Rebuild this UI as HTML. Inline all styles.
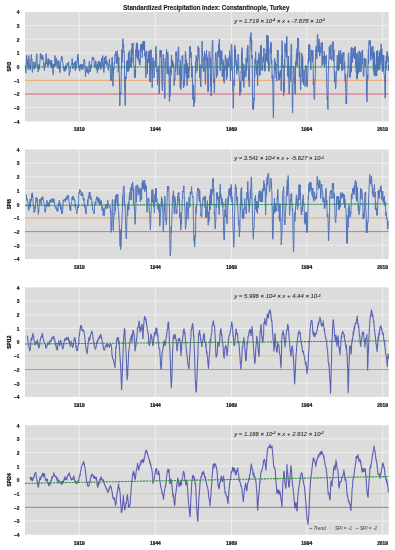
<!DOCTYPE html><html><head><meta charset="utf-8"><style>html,body{margin:0;padding:0;background:#fff;}svg{display:block;filter:blur(0.3px)}</style></head><body>
<svg width="395" height="550" viewBox="0 0 395 550" font-family='"Liberation Sans", sans-serif'>
<rect width="395" height="550" fill="#fff"/>
<text x="206.3" y="9.9" text-anchor="middle" font-weight="bold" font-size="6.8" fill="#1a1a1a" stroke="#1a1a1a" stroke-width="0.15" textLength="166" lengthAdjust="spacingAndGlyphs">Standardized Precipitation Index: Constantinople, Turkey</text>
<rect x="25.0" y="11.9" width="363.7" height="109.5" fill="#dcdcdc"/>
<line x1="25.0" x2="388.7" y1="107.71" y2="107.71" stroke="#f2f2f2" stroke-width="0.8"/>
<line x1="25.0" x2="388.7" y1="52.96" y2="52.96" stroke="#f2f2f2" stroke-width="0.8"/>
<line x1="25.0" x2="388.7" y1="39.27" y2="39.27" stroke="#f2f2f2" stroke-width="0.8"/>
<line x1="25.0" x2="388.7" y1="25.59" y2="25.59" stroke="#f2f2f2" stroke-width="0.8"/>
<line x1="79.3" x2="79.3" y1="11.9" y2="121.4" stroke="#f2f2f2" stroke-width="0.8"/>
<line x1="155.4" x2="155.4" y1="11.9" y2="121.4" stroke="#f2f2f2" stroke-width="0.8"/>
<line x1="231.5" x2="231.5" y1="11.9" y2="121.4" stroke="#f2f2f2" stroke-width="0.8"/>
<line x1="306.8" x2="306.8" y1="11.9" y2="121.4" stroke="#f2f2f2" stroke-width="0.8"/>
<line x1="382.6" x2="382.6" y1="11.9" y2="121.4" stroke="#f2f2f2" stroke-width="0.8"/>
<line x1="25.0" x2="388.7" y1="80.34" y2="80.34" stroke="#f2a56e" stroke-width="1"/>
<line x1="25.0" x2="388.7" y1="94.03" y2="94.03" stroke="#d9607a" stroke-width="1"/>
<polyline points="25.1,65.4 25.4,66.7 25.6,69.2 25.9,73.1 26.1,67.1 26.4,60.1 26.6,55.2 26.9,58.2 27.1,58.9 27.4,65.4 27.7,60.3 27.9,66.2 28.2,69.7 28.4,66.5 28.7,60.3 28.9,55.5 29.2,62.3 29.4,67.3 29.7,64.2 29.9,68.7 30.2,70.0 30.4,69.0 30.7,64.3 30.9,59.1 31.2,60.2 31.4,54.3 31.7,59.6 31.9,59.1 32.2,70.9 32.5,72.4 32.7,69.4 33.0,66.7 33.2,61.8 33.5,65.6 33.7,65.9 34.0,68.3 34.2,69.6 34.5,68.1 34.7,65.0 35.0,61.8 35.2,62.0 35.5,66.6 35.7,67.6 36.0,66.3 36.2,61.0 36.5,54.4 36.7,53.6 37.0,54.7 37.2,62.6 37.5,67.3 37.8,69.7 38.0,72.0 38.3,70.7 38.5,69.4 38.8,64.5 39.0,64.6 39.3,63.9 39.5,69.3 39.8,63.7 40.0,61.7 40.3,53.6 40.5,55.8 40.8,53.6 41.0,58.7 41.3,58.9 41.5,55.5 41.8,58.2 42.0,57.0 42.3,59.8 42.6,55.2 42.8,56.3 43.1,57.5 43.3,60.5 43.6,61.5 43.8,67.5 44.1,67.5 44.3,70.4 44.6,68.4 44.8,66.1 45.1,63.0 45.3,66.6 45.6,61.4 45.8,59.5 46.1,53.6 46.3,60.0 46.6,63.5 46.8,64.0 47.1,61.9 47.4,66.4 47.6,65.8 47.9,58.7 48.1,59.2 48.4,58.5 48.6,65.7 48.9,60.8 49.1,59.7 49.4,64.1 49.6,63.3 49.9,63.1 50.1,60.3 50.4,61.9 50.6,65.7 50.9,66.4 51.1,60.9 51.4,63.8 51.6,60.0 51.9,68.0 52.2,63.5 52.4,66.3 52.7,70.1 52.9,72.0 53.2,74.7 53.4,68.6 53.7,64.2 53.9,64.4 54.2,66.1 54.4,66.4 54.7,62.9 54.9,55.5 55.2,58.7 55.4,61.5 55.7,66.1 55.9,63.5 56.2,58.3 56.4,58.1 56.7,61.5 57.0,64.5 57.2,66.1 57.5,60.8 57.7,60.5 58.0,62.0 58.2,68.9 58.5,66.8 58.7,61.8 59.0,60.8 59.2,64.8 59.5,66.5 59.7,70.9 60.0,72.7 60.2,70.5 60.5,67.1 60.7,62.3 61.0,61.2 61.2,57.9 61.5,59.0 61.7,56.4 62.0,56.3 62.3,57.4 62.5,61.4 62.8,62.1 63.0,63.5 63.3,65.4 63.5,67.0 63.8,70.2 64.0,70.9 64.3,71.2 64.5,66.9 64.8,71.1 65.0,71.3 65.3,70.1 65.5,65.2 65.8,67.4 66.0,65.5 66.3,69.2 66.5,66.6 66.8,64.7 67.1,63.2 67.3,64.0 67.6,64.7 67.8,63.8 68.1,63.2 68.3,65.6 68.6,61.6 68.8,67.0 69.1,70.0 69.3,75.8 69.6,72.6 69.8,72.7 70.1,72.2 70.3,68.3 70.6,68.4 70.8,65.6 71.1,65.4 71.3,64.9 71.6,64.9 71.9,61.4 72.1,58.4 72.4,60.6 72.6,65.4 72.9,68.9 73.1,66.3 73.4,63.7 73.6,63.4 73.9,64.8 74.1,64.1 74.4,63.2 74.6,62.1 74.9,68.1 75.1,69.0 75.4,71.0 75.6,62.1 75.9,60.9 76.1,60.9 76.4,68.5 76.7,67.8 76.9,64.5 77.2,62.4 77.4,56.3 77.7,57.5 77.9,54.0 78.2,59.0 78.4,57.9 78.7,65.9 78.9,67.0 79.2,68.9 79.4,65.5 79.7,71.1 79.9,68.5 80.2,68.9 80.4,64.2 80.7,67.3 80.9,66.9 81.2,64.5 81.4,67.3 81.7,69.3 82.0,69.6 82.2,65.7 82.5,64.2 82.7,66.5 83.0,69.3 83.2,68.4 83.5,63.5 83.7,64.1 84.0,59.8 84.2,60.7 84.5,59.0 84.7,61.1 85.0,67.5 85.2,71.0 85.5,76.7 85.7,73.8 86.0,69.9 86.2,67.8 86.5,66.4 86.8,71.4 87.0,68.6 87.3,72.8 87.5,68.7 87.8,71.2 88.0,70.5 88.3,72.5 88.5,74.1 88.8,70.9 89.0,65.5 89.3,61.2 89.5,63.9 89.8,67.7 90.0,71.8 90.3,67.8 90.5,71.3 90.8,65.3 91.0,67.9 91.3,64.4 91.6,66.9 91.8,62.7 92.1,59.6 92.3,57.6 92.6,60.1 92.8,57.6 93.1,57.1 93.3,57.8 93.6,57.2 93.8,60.2 94.1,59.6 94.3,66.2 94.6,67.4 94.8,65.5 95.1,66.6 95.3,64.0 95.6,65.2 95.8,60.8 96.1,68.7 96.4,69.9 96.6,68.9 96.9,64.9 97.1,64.4 97.4,72.8 97.6,68.8 97.9,70.9 98.1,61.9 98.4,68.8 98.6,65.1 98.9,68.2 99.1,60.8 99.4,65.3 99.6,66.4 99.9,62.4 100.1,62.1 100.4,62.4 100.6,69.3 100.9,69.9 101.1,64.6 101.4,59.1 101.7,58.2 101.9,66.3 102.2,67.8 102.4,62.8 102.7,55.7 102.9,55.8 103.2,61.3 103.4,64.0 103.7,71.0 103.9,72.5 104.2,69.4 104.4,67.4 104.7,57.2 104.9,59.7 105.2,59.6 105.4,63.7 105.7,58.9 105.9,55.8 106.2,61.4 106.5,65.3 106.7,62.9 107.0,60.9 107.2,64.0 107.5,65.0 107.7,63.3 108.0,64.2 108.2,68.0 108.5,70.5 108.7,66.6 109.0,65.3 109.2,60.0 109.5,58.9 109.7,63.5 110.0,65.6 110.2,65.0 110.5,77.2 110.7,80.6 111.0,80.6 111.3,79.2 111.5,80.6 111.8,61.6 112.0,57.1 112.3,57.1 112.5,61.7 112.8,84.1 113.0,86.2 113.3,76.7 113.5,71.2 113.8,68.0 114.0,69.3 114.3,62.3 114.5,63.6 114.8,61.8 115.0,54.1 115.3,54.9 115.5,55.6 115.8,51.5 116.1,56.3 116.3,63.9 116.6,63.9 116.8,63.4 117.1,50.8 117.3,62.6 117.6,54.6 117.8,56.2 118.1,70.6 118.3,72.4 118.6,67.9 118.8,57.0 119.1,72.2 119.3,73.2 119.6,89.5 119.8,105.9 120.1,95.1 120.3,92.0 120.6,94.4 120.9,94.5 121.1,83.3 121.4,65.6 121.6,68.8 121.9,49.2 122.1,62.7 122.4,57.3 122.6,52.4 122.9,38.7 123.1,46.9 123.4,43.6 123.6,44.4 123.9,52.4 124.1,51.3 124.4,57.6 124.6,88.9 124.9,91.4 125.1,105.5 125.4,105.5 125.6,76.8 125.9,77.1 126.2,78.7 126.4,74.4 126.7,61.4 126.9,71.7 127.2,67.4 127.4,59.9 127.7,61.9 127.9,71.3 128.2,69.4 128.4,52.3 128.7,71.3 128.9,64.4 129.2,68.8 129.4,51.8 129.7,50.7 129.9,50.4 130.2,67.2 130.4,58.4 130.7,67.2 131.0,60.4 131.2,66.4 131.5,48.7 131.7,56.8 132.0,62.8 132.2,43.0 132.5,53.7 132.7,50.8 133.0,43.0 133.2,51.0 133.5,56.4 133.7,65.2 134.0,65.8 134.2,68.3 134.5,78.0 134.7,76.6 135.0,70.5 135.2,75.4 135.5,77.5 135.8,49.4 136.0,56.9 136.3,44.7 136.5,42.9 136.8,52.9 137.0,42.9 137.3,58.0 137.5,43.2 137.8,59.4 138.0,58.6 138.3,50.7 138.5,59.7 138.8,49.8 139.0,62.3 139.3,62.8 139.5,59.7 139.8,65.3 140.0,60.3 140.3,62.2 140.6,44.5 140.8,47.6 141.1,44.5 141.3,51.4 141.6,44.5 141.8,44.5 142.1,49.1 142.3,57.7 142.6,42.2 142.8,46.9 143.1,46.6 143.3,41.1 143.6,50.0 143.8,41.1 144.1,41.1 144.3,50.5 144.6,41.6 144.8,56.3 145.1,51.9 145.3,57.9 145.6,60.4 145.9,77.9 146.1,55.1 146.4,50.7 146.6,51.0 146.9,57.7 147.1,61.8 147.4,74.1 147.6,60.0 147.9,59.1 148.1,62.1 148.4,51.6 148.6,62.7 148.9,59.7 149.1,51.3 149.4,51.3 149.6,60.8 149.9,82.0 150.1,50.0 150.4,82.0 150.7,61.2 150.9,70.1 151.2,49.7 151.4,57.5 151.7,59.8 151.9,77.8 152.2,87.6 152.4,80.5 152.7,58.7 152.9,57.6 153.2,57.6 153.4,61.4 153.7,68.4 153.9,73.0 154.2,77.9 154.4,71.2 154.7,70.6 154.9,60.8 155.2,62.6 155.5,66.5 155.7,47.2 156.0,46.2 156.2,52.2 156.5,54.2 156.7,60.0 157.0,72.2 157.2,69.1 157.5,85.1 157.7,82.3 158.0,77.9 158.2,66.4 158.5,65.9 158.7,70.4 159.0,88.8 159.2,93.9 159.5,87.7 159.7,72.3 160.0,50.4 160.3,57.1 160.5,50.4 160.8,50.4 161.0,53.6 161.3,50.4 161.5,69.7 161.8,78.2 162.0,84.2 162.3,90.7 162.5,88.5 162.8,68.6 163.0,60.4 163.3,54.2 163.5,63.0 163.8,58.3 164.0,78.5 164.3,86.5 164.5,92.8 164.8,98.9 165.0,94.9 165.3,61.6 165.6,67.5 165.8,60.1 166.1,56.6 166.3,53.8 166.6,49.3 166.8,61.3 167.1,74.0 167.3,74.0 167.6,66.7 167.8,52.0 168.1,57.9 168.3,69.9 168.6,74.7 168.8,74.6 169.1,68.6 169.3,101.2 169.6,101.5 169.8,75.2 170.1,96.4 170.4,74.5 170.6,68.6 170.9,66.4 171.1,75.3 171.4,55.2 171.6,57.2 171.9,66.7 172.1,67.3 172.4,60.2 172.6,67.2 172.9,62.1 173.1,62.1 173.4,67.1 173.6,63.8 173.9,69.4 174.1,85.6 174.4,77.9 174.6,78.9 174.9,80.3 175.2,73.3 175.4,72.5 175.7,61.4 175.9,51.8 176.2,56.3 176.4,51.8 176.7,51.8 176.9,68.6 177.2,68.0 177.4,75.1 177.7,58.8 177.9,61.3 178.2,49.7 178.4,46.9 178.7,46.9 178.9,57.5 179.2,74.9 179.4,73.5 179.7,67.8 180.0,76.3 180.2,87.4 180.5,60.1 180.7,88.3 181.0,89.8 181.2,81.6 181.5,81.3 181.7,69.7 182.0,59.2 182.2,55.9 182.5,60.2 182.7,55.2 183.0,66.6 183.2,81.8 183.5,87.9 183.7,81.0 184.0,86.4 184.2,81.4 184.5,84.2 184.8,64.2 185.0,73.2 185.3,51.4 185.5,51.4 185.8,53.2 186.0,68.4 186.3,77.0 186.5,59.8 186.8,70.2 187.0,85.7 187.3,78.8 187.5,63.4 187.8,78.9 188.0,68.0 188.3,72.4 188.5,68.1 188.8,78.1 189.0,66.9 189.3,70.7 189.5,46.5 189.8,46.5 190.1,50.6 190.3,46.5 190.6,56.3 190.8,57.6 191.1,52.0 191.3,64.8 191.6,63.5 191.8,77.5 192.1,66.1 192.3,70.3 192.6,87.7 192.8,99.5 193.1,99.8 193.3,84.9 193.6,88.9 193.8,106.7 194.1,98.3 194.3,96.9 194.6,103.0 194.9,99.7 195.1,81.9 195.4,67.4 195.6,61.7 195.9,73.1 196.1,55.5 196.4,58.0 196.6,58.7 196.9,62.0 197.1,58.5 197.4,71.1 197.6,62.1 197.9,59.2 198.1,46.3 198.4,57.5 198.6,50.4 198.9,47.8 199.1,55.0 199.4,62.5 199.7,77.7 199.9,64.0 200.2,72.8 200.4,80.7 200.7,87.0 200.9,87.0 201.2,69.5 201.4,65.5 201.7,68.6 201.9,44.8 202.2,41.1 202.4,53.0 202.7,56.0 202.9,67.1 203.2,66.0 203.4,71.5 203.7,71.9 203.9,57.5 204.2,61.1 204.5,51.4 204.7,70.8 205.0,69.1 205.2,81.1 205.5,84.5 205.7,78.5 206.0,54.4 206.2,60.9 206.5,50.0 206.7,54.9 207.0,59.4 207.2,68.6 207.5,57.2 207.7,91.7 208.0,91.7 208.2,91.7 208.5,91.6 208.7,65.2 209.0,51.5 209.2,51.5 209.5,51.5 209.8,52.3 210.0,67.0 210.3,57.7 210.5,86.6 210.8,75.6 211.0,96.2 211.3,94.2 211.5,78.4 211.8,66.7 212.0,49.7 212.3,44.6 212.5,40.3 212.8,41.0 213.0,66.5 213.3,77.2 213.5,80.8 213.8,83.2 214.0,78.4 214.3,93.0 214.6,88.0 214.8,77.1 215.1,64.4 215.3,60.4 215.6,52.5 215.8,52.5 216.1,52.2 216.3,58.1 216.6,77.7 216.8,76.0 217.1,71.4 217.3,75.1 217.6,73.6 217.8,51.1 218.1,52.9 218.3,56.7 218.6,47.5 218.8,43.6 219.1,54.0 219.4,39.0 219.6,55.9 219.9,60.6 220.1,70.9 220.4,49.8 220.6,58.8 220.9,57.2 221.1,64.2 221.4,59.9 221.6,64.4 221.9,50.9 222.1,76.3 222.4,75.8 222.6,69.5 222.9,76.5 223.1,59.7 223.4,61.6 223.6,80.4 223.9,79.7 224.2,83.2 224.4,79.2 224.7,65.4 224.9,70.4 225.2,56.8 225.4,55.1 225.7,57.5 225.9,61.1 226.2,63.5 226.4,79.8 226.7,70.4 226.9,58.6 227.2,77.5 227.4,67.1 227.7,68.1 227.9,62.7 228.2,65.2 228.4,58.0 228.7,66.9 228.9,58.1 229.2,56.5 229.5,55.4 229.7,50.7 230.0,63.9 230.2,73.2 230.5,80.9 230.7,55.7 231.0,70.6 231.2,46.2 231.5,44.3 231.7,44.3 232.0,52.2 232.2,64.7 232.5,70.4 232.7,89.1 233.0,92.2 233.2,108.3 233.5,99.8 233.7,88.2 234.0,79.8 234.3,85.9 234.5,45.5 234.8,45.3 235.0,45.3 235.3,61.3 235.5,49.0 235.8,58.8 236.0,66.0 236.3,60.6 236.5,64.9 236.8,74.3 237.0,64.7 237.3,70.6 237.5,69.8 237.8,64.7 238.0,54.4 238.3,54.4 238.5,56.3 238.8,70.2 239.1,76.8 239.3,80.0 239.6,81.5 239.8,95.6 240.1,88.1 240.3,84.1 240.6,81.5 240.8,92.3 241.1,71.7 241.3,72.6 241.6,52.2 241.8,59.2 242.1,47.7 242.3,52.3 242.6,81.1 242.8,70.6 243.1,63.6 243.3,71.8 243.6,79.9 243.9,87.5 244.1,78.9 244.4,70.8 244.6,77.7 244.9,72.1 245.1,64.8 245.4,74.9 245.6,69.1 245.9,76.7 246.1,58.0 246.4,69.4 246.6,70.4 246.9,57.3 247.1,50.8 247.4,48.0 247.6,62.2 247.9,45.1 248.1,59.0 248.4,71.1 248.7,80.0 248.9,75.6 249.2,86.9 249.4,75.1 249.7,67.4 249.9,53.7 250.2,36.6 250.4,40.4 250.7,42.1 250.9,32.5 251.2,36.3 251.4,49.6 251.7,39.8 251.9,58.7 252.2,55.0 252.4,83.2 252.7,106.4 252.9,109.5 253.2,102.3 253.4,109.5 253.7,108.0 254.0,97.8 254.2,100.7 254.5,65.1 254.7,77.6 255.0,58.8 255.2,63.9 255.5,56.1 255.7,51.5 256.0,63.2 256.2,70.5 256.5,67.3 256.7,74.5 257.0,70.0 257.2,60.5 257.5,85.8 257.7,85.8 258.0,71.5 258.2,60.1 258.5,63.1 258.8,52.8 259.0,52.8 259.3,58.5 259.5,75.4 259.8,57.8 260.0,75.4 260.3,59.2 260.5,45.6 260.8,57.3 261.0,48.1 261.3,45.0 261.5,54.6 261.8,70.1 262.0,70.3 262.3,65.5 262.5,70.3 262.8,70.3 263.0,57.1 263.3,62.5 263.6,54.6 263.8,48.1 264.1,48.1 264.3,59.2 264.6,68.3 264.8,71.4 265.1,64.5 265.3,70.1 265.6,53.8 265.8,56.7 266.1,57.0 266.3,49.0 266.6,61.1 266.8,35.1 267.1,43.4 267.3,35.1 267.6,59.6 267.8,63.2 268.1,35.9 268.4,51.0 268.6,71.3 268.9,71.3 269.1,71.3 269.4,63.4 269.6,64.8 269.9,60.9 270.1,48.6 270.4,52.9 270.6,42.6 270.9,53.5 271.1,42.6 271.4,64.2 271.6,59.8 271.9,60.2 272.1,78.5 272.4,74.6 272.6,82.1 272.9,84.4 273.1,107.6 273.4,117.8 273.7,106.7 273.9,76.8 274.2,77.6 274.4,63.9 274.7,58.5 274.9,63.6 275.2,71.2 275.4,61.7 275.7,66.1 275.9,71.3 276.2,77.9 276.4,72.1 276.7,81.2 276.9,63.9 277.2,65.4 277.4,49.9 277.7,56.8 277.9,53.3 278.2,50.7 278.5,79.7 278.7,71.8 279.0,80.3 279.2,80.3 279.5,73.3 279.7,75.5 280.0,78.5 280.2,70.7 280.5,70.0 280.7,75.9 281.0,71.0 281.2,90.8 281.5,55.8 281.7,62.1 282.0,40.7 282.2,42.4 282.5,55.1 282.7,67.7 283.0,65.1 283.3,76.1 283.5,96.2 283.8,84.8 284.0,81.8 284.3,92.2 284.5,58.6 284.8,67.7 285.0,43.1 285.3,53.1 285.5,45.7 285.8,46.1 286.0,49.7 286.3,57.3 286.5,40.1 286.8,36.3 287.0,37.1 287.3,62.5 287.5,66.4 287.8,76.0 288.1,65.0 288.3,77.9 288.6,56.2 288.8,75.7 289.1,94.0 289.3,89.9 289.6,81.5 289.8,81.8 290.1,65.9 290.3,69.9 290.6,81.3 290.8,61.1 291.1,44.1 291.3,44.1 291.6,44.1 291.8,75.6 292.1,81.9 292.3,105.8 292.6,113.0 292.8,105.3 293.1,83.5 293.4,66.7 293.6,66.1 293.9,66.1 294.1,66.1 294.4,83.3 294.6,76.2 294.9,91.9 295.1,94.3 295.4,94.3 295.6,61.1 295.9,65.4 296.1,64.1 296.4,52.7 296.6,55.2 296.9,64.9 297.1,48.3 297.4,66.9 297.6,38.2 297.9,40.3 298.2,42.1 298.4,38.2 298.7,48.3 298.9,56.8 299.2,60.0 299.4,77.0 299.7,52.0 299.9,75.6 300.2,73.6 300.4,85.7 300.7,89.9 300.9,76.5 301.2,67.0 301.4,67.9 301.7,57.3 301.9,53.1 302.2,78.8 302.4,81.9 302.7,56.6 303.0,78.2 303.2,81.9 303.5,84.8 303.7,76.6 304.0,69.6 304.2,70.4 304.5,78.4 304.7,80.5 305.0,86.4 305.2,71.7 305.5,65.6 305.7,65.6 306.0,69.3 306.2,65.6 306.5,74.7 306.7,86.8 307.0,86.8 307.2,86.8 307.5,82.7 307.8,73.7 308.0,65.8 308.3,59.1 308.5,63.6 308.8,44.6 309.0,61.5 309.3,47.8 309.5,44.6 309.8,44.6 310.0,47.4 310.3,60.0 310.5,56.2 310.8,69.9 311.0,61.9 311.3,50.2 311.5,55.9 311.8,50.2 312.0,50.9 312.3,62.0 312.6,59.6 312.8,50.2 313.1,55.2 313.3,85.0 313.6,78.8 313.8,83.4 314.1,99.5 314.3,99.5 314.6,99.5 314.8,86.4 315.1,78.8 315.3,73.3 315.6,56.0 315.8,49.1 316.1,52.3 316.3,45.9 316.6,56.4 316.8,58.5 317.1,58.7 317.3,34.9 317.6,34.0 317.9,38.6 318.1,49.1 318.4,52.3 318.6,45.0 318.9,40.1 319.1,39.1 319.4,44.1 319.6,56.2 319.9,55.5 320.1,46.6 320.4,49.8 320.6,51.0 320.9,52.9 321.1,42.6 321.4,42.6 321.6,42.6 321.9,42.6 322.1,65.8 322.4,42.6 322.7,55.8 322.9,64.6 323.2,63.0 323.4,56.6 323.7,59.5 323.9,56.2 324.2,57.6 324.4,51.3 324.7,67.1 324.9,60.1 325.2,56.6 325.4,57.3 325.7,58.0 325.9,64.1 326.2,55.4 326.4,72.6 326.7,82.4 326.9,89.6 327.2,99.5 327.5,96.6 327.7,107.3 328.0,109.4 328.2,72.0 328.5,71.8 328.7,60.7 329.0,57.8 329.2,46.4 329.5,46.9 329.7,52.9 330.0,59.2 330.2,58.2 330.5,46.7 330.7,44.5 331.0,44.5 331.2,57.4 331.5,56.6 331.7,60.2 332.0,60.2 332.3,52.6 332.5,41.7 332.8,41.7 333.0,41.7 333.3,41.7 333.5,61.4 333.8,58.6 334.0,49.6 334.3,73.0 334.5,82.2 334.8,71.4 335.0,72.9 335.3,80.4 335.5,88.8 335.8,88.2 336.0,84.3 336.3,75.7 336.5,70.6 336.8,70.3 337.0,62.1 337.3,55.1 337.6,60.9 337.8,70.0 338.1,66.7 338.3,71.1 338.6,59.3 338.8,50.5 339.1,69.3 339.3,59.8 339.6,53.2 339.8,62.8 340.1,63.0 340.3,63.9 340.6,50.2 340.8,52.5 341.1,53.4 341.3,55.1 341.6,64.7 341.8,70.5 342.1,65.1 342.4,55.5 342.6,70.5 342.9,54.5 343.1,52.3 343.4,56.9 343.6,57.1 343.9,52.3 344.1,69.2 344.4,62.2 344.6,61.0 344.9,73.4 345.1,81.3 345.4,73.9 345.6,88.9 345.9,91.4 346.1,103.9 346.4,96.5 346.6,103.9 346.9,85.0 347.2,75.5 347.4,76.9 347.7,72.8 347.9,70.4 348.2,59.1 348.4,52.7 348.7,52.7 348.9,60.3 349.2,66.6 349.4,77.3 349.7,75.4 349.9,77.3 350.2,77.3 350.4,77.3 350.7,57.9 350.9,55.6 351.2,48.2 351.4,72.2 351.7,47.1 352.0,62.7 352.2,55.3 352.5,62.1 352.7,56.5 353.0,48.1 353.2,50.4 353.5,56.1 353.7,57.1 354.0,49.4 354.2,52.0 354.5,58.8 354.7,46.7 355.0,50.4 355.2,46.7 355.5,54.4 355.7,65.4 356.0,62.3 356.2,72.4 356.5,53.7 356.7,79.1 357.0,67.6 357.3,79.1 357.5,79.1 357.8,52.2 358.0,62.9 358.3,66.0 358.5,73.5 358.8,59.0 359.0,55.5 359.3,50.8 359.5,67.2 359.8,71.9 360.0,59.8 360.3,61.3 360.5,52.5 360.8,71.9 361.0,71.9 361.3,67.5 361.5,67.4 361.8,58.9 362.1,50.5 362.3,63.5 362.6,50.5 362.8,57.3 363.1,66.8 363.3,76.3 363.6,75.4 363.8,76.3 364.1,68.5 364.3,58.5 364.6,64.5 364.8,58.5 365.1,58.5 365.3,58.5 365.6,66.4 365.8,59.2 366.1,68.8 366.3,71.2 366.6,94.6 366.9,101.8 367.1,101.8 367.4,77.2 367.6,74.5 367.9,79.4 368.1,59.7 368.4,49.3 368.6,63.6 368.9,42.0 369.1,40.4 369.4,40.4 369.6,45.1 369.9,45.5 370.1,40.4 370.4,42.9 370.6,60.4 370.9,60.4 371.1,49.1 371.4,56.1 371.7,52.7 371.9,46.5 372.2,49.8 372.4,58.9 372.7,55.1 372.9,46.5 373.2,67.8 373.4,71.3 373.7,71.3 373.9,51.9 374.2,75.2 374.4,51.9 374.7,69.8 374.9,76.1 375.2,76.1 375.4,75.5 375.7,64.7 375.9,75.7 376.2,58.6 376.5,51.4 376.7,76.1 377.0,63.2 377.2,71.1 377.5,50.2 377.7,65.6 378.0,65.5 378.2,69.9 378.5,61.4 378.7,56.5 379.0,68.3 379.2,51.3 379.5,57.1 379.7,70.1 380.0,53.5 380.2,53.9 380.5,49.1 380.7,64.9 381.0,56.7 381.2,43.7 381.5,60.7 381.8,48.5 382.0,58.1 382.3,71.6 382.5,56.2 382.8,68.0 383.0,54.8 383.3,62.7 383.5,71.2 383.8,55.6 384.0,74.1 384.3,74.1 384.5,79.3 384.8,83.6 385.0,98.2 385.3,98.2 385.5,78.0 385.8,61.1 386.0,69.5 386.3,55.7 386.6,62.3 386.8,54.5 387.1,51.3 387.3,55.8 387.6,52.7 387.8,61.8 388.1,56.3 388.3,70.9 388.6,65.1" fill="none" stroke="#4f72b8" stroke-width="1.0" stroke-linejoin="round"/>
<line x1="25.0" x2="388.7" y1="67.06" y2="67.06" stroke="#1a8a5c" stroke-width="1.1" stroke-dasharray="2.4,0.7"/>
<text x="19.6" y="123.70" text-anchor="end" font-weight="bold" font-size="4.9" fill="#1a1a1a" stroke="#1a1a1a" stroke-width="0.2">−4</text>
<text x="19.6" y="110.01" text-anchor="end" font-weight="bold" font-size="4.9" fill="#1a1a1a" stroke="#1a1a1a" stroke-width="0.2">−3</text>
<text x="19.6" y="96.33" text-anchor="end" font-weight="bold" font-size="4.9" fill="#1a1a1a" stroke="#1a1a1a" stroke-width="0.2">−2</text>
<text x="19.6" y="82.64" text-anchor="end" font-weight="bold" font-size="4.9" fill="#1a1a1a" stroke="#1a1a1a" stroke-width="0.2">−1</text>
<text x="19.6" y="68.95" text-anchor="end" font-weight="bold" font-size="4.9" fill="#1a1a1a" stroke="#1a1a1a" stroke-width="0.2">0</text>
<text x="19.6" y="55.26" text-anchor="end" font-weight="bold" font-size="4.9" fill="#1a1a1a" stroke="#1a1a1a" stroke-width="0.2">1</text>
<text x="19.6" y="41.57" text-anchor="end" font-weight="bold" font-size="4.9" fill="#1a1a1a" stroke="#1a1a1a" stroke-width="0.2">2</text>
<text x="19.6" y="27.89" text-anchor="end" font-weight="bold" font-size="4.9" fill="#1a1a1a" stroke="#1a1a1a" stroke-width="0.2">3</text>
<text x="19.6" y="14.20" text-anchor="end" font-weight="bold" font-size="4.9" fill="#1a1a1a" stroke="#1a1a1a" stroke-width="0.2">4</text>
<text x="79.3" y="131.20" text-anchor="middle" font-weight="bold" font-size="4.9" fill="#111" stroke="#111" stroke-width="0.2">1919</text>
<text x="155.4" y="131.20" text-anchor="middle" font-weight="bold" font-size="4.9" fill="#111" stroke="#111" stroke-width="0.2">1944</text>
<text x="231.5" y="131.20" text-anchor="middle" font-weight="bold" font-size="4.9" fill="#111" stroke="#111" stroke-width="0.2">1969</text>
<text x="306.8" y="131.20" text-anchor="middle" font-weight="bold" font-size="4.9" fill="#111" stroke="#111" stroke-width="0.2">1994</text>
<text x="382.6" y="131.20" text-anchor="middle" font-weight="bold" font-size="4.9" fill="#111" stroke="#111" stroke-width="0.2">2019</text>
<text transform="translate(10.8,66.65) rotate(-90)" text-anchor="middle" font-weight="bold" font-size="4.8" fill="#111" stroke="#111" stroke-width="0.25" textLength="9.6" lengthAdjust="spacingAndGlyphs">SPI3</text>
<text x="234.2" y="22.80" font-style="italic" font-size="6.0" fill="#2a2a2a" stroke="#2a2a2a" stroke-width="0.08" textLength="91" lengthAdjust="spacingAndGlyphs">y = 1.719 × 10<tspan dy="-1.8" font-size="3.6">-4</tspan><tspan dy="1.8"> × x + -7.878 × 10</tspan><tspan dy="-1.8" font-size="3.6">-5</tspan></text>
<rect x="25.0" y="149.5" width="363.7" height="109.5" fill="#dcdcdc"/>
<line x1="25.0" x2="388.7" y1="245.31" y2="245.31" stroke="#f2f2f2" stroke-width="0.8"/>
<line x1="25.0" x2="388.7" y1="190.56" y2="190.56" stroke="#f2f2f2" stroke-width="0.8"/>
<line x1="25.0" x2="388.7" y1="176.88" y2="176.88" stroke="#f2f2f2" stroke-width="0.8"/>
<line x1="25.0" x2="388.7" y1="163.19" y2="163.19" stroke="#f2f2f2" stroke-width="0.8"/>
<line x1="79.3" x2="79.3" y1="149.5" y2="259.0" stroke="#f2f2f2" stroke-width="0.8"/>
<line x1="155.4" x2="155.4" y1="149.5" y2="259.0" stroke="#f2f2f2" stroke-width="0.8"/>
<line x1="231.5" x2="231.5" y1="149.5" y2="259.0" stroke="#f2f2f2" stroke-width="0.8"/>
<line x1="306.8" x2="306.8" y1="149.5" y2="259.0" stroke="#f2f2f2" stroke-width="0.8"/>
<line x1="382.6" x2="382.6" y1="149.5" y2="259.0" stroke="#f2f2f2" stroke-width="0.8"/>
<line x1="25.0" x2="388.7" y1="217.94" y2="217.94" stroke="#f0a575" stroke-width="1"/>
<line x1="25.0" x2="388.7" y1="231.62" y2="231.62" stroke="#d87080" stroke-width="1"/>
<polyline points="26.1,194.6 26.4,194.6 26.6,200.1 26.9,198.2 27.1,201.1 27.4,200.8 27.7,202.2 27.9,203.9 28.2,206.9 28.4,209.6 28.7,204.8 28.9,210.4 29.2,204.6 29.4,203.1 29.7,205.1 29.9,201.5 30.2,199.1 30.4,207.3 30.7,202.1 30.9,202.0 31.2,199.4 31.4,200.2 31.7,194.3 31.9,196.6 32.2,192.7 32.5,197.8 32.7,195.3 33.0,198.6 33.2,206.1 33.5,204.6 33.7,206.1 34.0,212.5 34.2,210.4 34.5,209.7 34.7,211.8 35.0,206.2 35.2,208.9 35.5,206.5 35.7,200.1 36.0,197.8 36.2,198.5 36.5,198.8 36.7,197.2 37.0,202.4 37.2,198.4 37.5,204.1 37.8,206.3 38.0,209.6 38.3,214.3 38.5,209.5 38.8,211.7 39.0,206.8 39.3,202.9 39.5,200.1 39.8,199.4 40.0,202.0 40.3,198.9 40.5,200.0 40.8,202.4 41.0,204.6 41.3,205.5 41.5,201.5 41.8,197.0 42.0,199.9 42.3,198.0 42.6,199.4 42.8,196.6 43.1,199.4 43.3,199.9 43.6,200.9 43.8,202.1 44.1,203.7 44.3,205.4 44.6,207.6 44.8,211.4 45.1,210.2 45.3,212.3 45.6,209.7 45.8,210.0 46.1,205.6 46.3,203.6 46.6,206.8 46.8,200.6 47.1,200.3 47.4,202.2 47.6,203.8 47.9,206.4 48.1,205.8 48.4,206.4 48.6,202.6 48.9,204.8 49.1,204.6 49.4,206.3 49.6,200.5 49.9,203.0 50.1,202.0 50.4,199.7 50.6,200.8 50.9,200.1 51.1,199.3 51.4,202.3 51.6,202.2 51.9,200.1 52.2,198.5 52.4,202.2 52.7,200.6 52.9,202.0 53.2,202.6 53.4,198.5 53.7,201.4 53.9,199.2 54.2,200.4 54.4,201.5 54.7,202.9 54.9,206.8 55.2,205.9 55.4,206.1 55.7,206.5 55.9,208.7 56.2,207.0 56.4,208.9 56.7,210.7 57.0,209.3 57.2,210.0 57.5,208.5 57.7,211.8 58.0,209.2 58.2,205.5 58.5,203.0 58.7,206.5 59.0,201.8 59.2,200.2 59.5,201.3 59.7,202.1 60.0,205.3 60.2,203.4 60.5,209.5 60.7,204.5 61.0,209.3 61.2,206.9 61.5,213.7 61.7,210.7 62.0,212.2 62.3,213.7 62.5,213.3 62.8,205.8 63.0,205.0 63.3,200.2 63.5,202.3 63.8,200.5 64.0,199.6 64.3,199.1 64.5,200.0 64.8,199.0 65.0,201.3 65.3,201.8 65.5,197.8 65.8,198.8 66.0,197.9 66.3,200.1 66.5,197.6 66.8,199.6 67.1,196.2 67.3,198.6 67.6,196.6 67.8,195.3 68.1,197.2 68.3,196.8 68.6,195.4 68.8,201.6 69.1,202.3 69.3,202.8 69.6,207.2 69.8,209.6 70.1,205.9 70.3,207.5 70.6,210.8 70.8,210.8 71.1,204.6 71.3,201.8 71.6,201.2 71.9,200.5 72.1,197.2 72.4,199.9 72.6,196.4 72.9,196.3 73.1,200.0 73.4,196.3 73.6,197.2 73.9,199.1 74.1,200.1 74.4,198.8 74.6,200.9 74.9,200.3 75.1,207.2 75.4,206.2 75.6,203.9 75.9,207.9 76.1,210.7 76.4,211.5 76.7,213.7 76.9,213.7 77.2,211.5 77.4,210.9 77.7,206.7 77.9,207.7 78.2,204.9 78.4,208.0 78.7,199.8 78.9,192.7 79.2,193.7 79.4,193.3 79.7,189.5 79.9,189.5 80.2,189.7 80.4,192.1 80.7,191.9 80.9,191.2 81.2,195.9 81.4,193.6 81.7,194.3 82.0,192.4 82.2,193.4 82.5,196.4 82.7,193.8 83.0,196.1 83.2,199.3 83.5,198.4 83.7,200.9 84.0,198.5 84.2,205.7 84.5,207.3 84.7,207.4 85.0,205.0 85.2,207.7 85.5,213.1 85.7,214.0 86.0,213.6 86.2,213.8 86.5,207.7 86.8,206.6 87.0,205.0 87.3,204.9 87.5,199.6 87.8,204.0 88.0,203.8 88.3,197.4 88.5,195.9 88.8,198.7 89.0,195.5 89.3,192.2 89.5,196.7 89.8,194.2 90.0,192.2 90.3,199.4 90.5,196.6 90.8,196.1 91.0,199.4 91.3,197.9 91.6,199.5 91.8,203.1 92.1,202.1 92.3,203.9 92.6,210.0 92.8,209.8 93.1,211.0 93.3,211.4 93.6,212.4 93.8,213.4 94.1,212.3 94.3,213.4 94.6,206.2 94.8,205.8 95.1,201.6 95.3,202.9 95.6,203.8 95.8,204.8 96.1,199.1 96.4,199.6 96.6,197.8 96.9,196.6 97.1,196.6 97.4,199.3 97.6,196.9 97.9,202.4 98.1,202.6 98.4,200.1 98.6,198.3 98.9,198.5 99.1,203.9 99.4,198.5 99.6,205.4 99.9,205.4 100.1,203.6 100.4,200.9 100.6,204.7 100.9,205.2 101.1,200.4 101.4,202.0 101.7,205.9 101.9,205.4 102.2,210.4 102.4,206.2 102.7,210.2 102.9,207.8 103.2,215.7 103.4,211.1 103.7,208.8 103.9,214.4 104.2,213.2 104.4,215.7 104.7,208.8 104.9,207.5 105.2,207.5 105.4,208.7 105.7,204.1 105.9,205.5 106.2,205.3 106.5,205.1 106.7,207.4 107.0,208.8 107.2,205.3 107.5,208.0 107.7,200.2 108.0,203.8 108.2,204.4 108.5,203.6 108.7,203.7 109.0,206.4 109.2,207.6 109.5,207.7 109.7,206.2 110.0,207.2 110.2,207.8 110.5,213.8 110.7,210.8 111.0,231.2 111.3,232.3 111.5,221.6 111.8,222.7 112.0,212.6 112.3,199.4 112.5,200.6 112.8,200.0 113.0,227.3 113.3,230.5 113.5,221.6 113.8,219.8 114.0,213.3 114.3,214.1 114.5,213.2 114.8,214.2 115.0,199.2 115.3,211.3 115.5,195.5 115.8,200.1 116.1,203.3 116.3,200.3 116.6,194.4 116.8,194.4 117.1,194.4 117.3,197.2 117.6,205.8 117.8,194.4 118.1,206.3 118.3,209.6 118.6,211.8 118.8,213.9 119.1,223.5 119.3,224.6 119.6,233.4 119.8,235.7 120.1,246.2 120.3,229.7 120.6,249.5 120.9,247.1 121.1,246.7 121.4,236.2 121.6,224.5 121.9,224.4 122.1,214.5 122.4,212.8 122.6,195.5 122.9,205.1 123.1,192.4 123.4,186.8 123.6,185.9 123.9,185.9 124.1,186.0 124.4,194.0 124.6,201.9 124.9,206.6 125.1,205.5 125.4,217.5 125.6,220.3 125.9,232.4 126.2,238.9 126.4,238.8 126.7,229.2 126.9,217.6 127.2,213.9 127.4,207.4 127.7,215.6 127.9,204.2 128.2,207.5 128.4,202.4 128.7,204.9 128.9,210.1 129.2,196.6 129.4,196.4 129.7,192.4 129.9,200.1 130.2,192.4 130.4,189.1 130.7,187.6 131.0,189.4 131.2,199.9 131.5,199.9 131.7,184.6 132.0,190.9 132.2,185.8 132.5,182.2 132.7,182.2 133.0,184.8 133.2,186.7 133.5,205.5 133.7,188.5 134.0,204.9 134.2,208.4 134.5,207.6 134.7,216.7 135.0,224.4 135.2,224.2 135.5,216.8 135.8,209.5 136.0,185.8 136.3,201.3 136.5,201.9 136.8,191.0 137.0,191.6 137.3,184.6 137.5,187.9 137.8,185.8 138.0,189.0 138.3,195.1 138.5,189.3 138.8,190.5 139.0,187.5 139.3,187.7 139.5,193.4 139.8,193.5 140.0,196.7 140.3,201.6 140.6,189.9 140.8,188.8 141.1,188.2 141.3,197.7 141.6,199.6 141.8,189.9 142.1,182.7 142.3,182.7 142.6,189.4 142.8,180.0 143.1,189.0 143.3,187.6 143.6,181.4 143.8,184.6 144.1,185.6 144.3,190.0 144.6,180.0 144.8,191.7 145.1,184.4 145.3,183.5 145.6,189.6 145.9,189.7 146.1,187.4 146.4,185.9 146.6,194.6 146.9,212.1 147.1,212.1 147.4,212.1 147.6,212.1 147.9,198.3 148.1,198.9 148.4,201.5 148.6,198.3 148.9,198.3 149.1,207.4 149.4,209.6 149.6,209.9 149.9,222.3 150.1,223.1 150.4,230.0 150.7,222.6 150.9,214.7 151.2,210.7 151.4,202.8 151.7,193.7 151.9,189.7 152.2,194.8 152.4,196.8 152.7,202.8 152.9,189.7 153.2,198.6 153.4,201.0 153.7,206.8 153.9,205.9 154.2,208.1 154.4,213.1 154.7,207.4 154.9,194.3 155.2,202.3 155.5,198.6 155.7,188.3 156.0,193.9 156.2,188.3 156.5,202.1 156.7,198.5 157.0,198.3 157.2,203.1 157.5,203.5 157.7,209.1 158.0,207.1 158.2,204.5 158.5,203.2 158.7,203.2 159.0,212.3 159.2,205.1 159.5,220.0 159.7,226.0 160.0,226.0 160.3,217.8 160.5,213.9 160.8,209.1 161.0,203.9 161.3,201.2 161.5,196.8 161.8,206.7 162.0,198.8 162.3,202.9 162.5,201.2 162.8,214.3 163.0,224.4 163.3,232.2 163.5,230.0 163.8,221.1 164.0,210.4 164.3,204.1 164.5,211.9 164.8,196.1 165.0,201.0 165.3,216.4 165.6,220.0 165.8,220.5 166.1,218.6 166.3,224.9 166.6,221.8 166.8,214.4 167.1,202.3 167.3,189.4 167.6,186.2 167.8,191.8 168.1,189.4 168.3,186.5 168.6,186.2 168.8,186.2 169.1,198.8 169.3,202.7 169.6,225.8 169.8,238.9 170.1,255.8 170.4,255.8 170.6,251.2 170.9,250.0 171.1,226.6 171.4,233.0 171.6,224.6 171.9,220.0 172.1,209.6 172.4,203.8 172.6,196.1 172.9,195.2 173.1,201.5 173.4,190.6 173.6,195.2 173.9,195.2 174.1,213.9 174.4,213.9 174.6,212.2 174.9,196.7 175.2,198.9 175.4,199.3 175.7,205.5 175.9,208.4 176.2,213.7 176.4,209.9 176.7,213.7 176.9,212.2 177.2,204.9 177.4,201.4 177.7,196.0 177.9,201.0 178.2,193.1 178.4,194.9 178.7,193.0 178.9,192.3 179.2,203.9 179.4,198.7 179.7,214.0 180.0,218.2 180.2,212.5 180.5,222.1 180.7,230.1 181.0,226.8 181.2,219.2 181.5,224.1 181.7,213.0 182.0,210.8 182.2,200.6 182.5,199.7 182.7,190.7 183.0,191.6 183.2,192.1 183.5,188.5 183.7,186.0 184.0,186.0 184.2,194.7 184.5,202.6 184.8,206.2 185.0,210.3 185.3,224.5 185.5,229.5 185.8,226.5 186.0,225.6 186.3,221.4 186.5,201.9 186.8,210.3 187.0,201.9 187.3,210.5 187.5,207.8 187.8,211.2 188.0,219.2 188.3,216.9 188.5,208.5 188.8,206.9 189.0,197.1 189.3,200.8 189.5,203.8 189.8,207.3 190.1,197.2 190.3,191.7 190.6,194.5 190.8,192.0 191.1,194.0 191.3,191.0 191.6,186.6 191.8,190.9 192.1,192.7 192.3,195.9 192.6,197.9 192.8,196.1 193.1,199.5 193.3,218.2 193.6,221.4 193.8,237.6 194.1,241.7 194.3,236.9 194.6,247.1 194.9,243.8 195.1,235.2 195.4,237.4 195.6,231.0 195.9,206.5 196.1,213.5 196.4,207.7 196.6,205.1 196.9,205.4 197.1,193.8 197.4,192.0 197.6,188.3 197.9,188.1 198.1,189.8 198.4,188.1 198.6,188.1 198.9,198.4 199.1,197.9 199.4,201.6 199.7,189.7 199.9,196.4 200.2,199.5 200.4,205.3 200.7,204.4 200.9,215.6 201.2,213.3 201.4,216.8 201.7,217.4 201.9,215.6 202.2,203.4 202.4,207.0 202.7,202.1 202.9,199.2 203.2,197.3 203.4,198.7 203.7,200.1 203.9,198.5 204.2,196.6 204.5,201.2 204.7,198.9 205.0,207.8 205.2,204.0 205.5,195.8 205.7,217.8 206.0,214.2 206.2,210.3 206.5,216.3 206.7,206.9 207.0,217.6 207.2,204.2 207.5,200.5 207.7,213.3 208.0,212.6 208.2,225.3 208.5,215.4 208.7,211.9 209.0,221.4 209.2,214.1 209.5,208.7 209.8,195.3 210.0,206.3 210.3,210.0 210.5,189.1 210.8,202.7 211.0,191.2 211.3,204.9 211.5,193.8 211.8,189.1 212.0,194.7 212.3,188.4 212.5,179.1 212.8,183.1 213.0,178.2 213.3,178.2 213.5,192.0 213.8,187.9 214.0,197.8 214.3,214.4 214.6,211.9 214.8,218.7 215.1,229.1 215.3,228.5 215.6,223.6 215.8,221.1 216.1,205.5 216.3,207.7 216.6,205.1 216.8,192.8 217.1,198.2 217.3,192.1 217.6,199.0 217.8,199.1 218.1,200.4 218.3,196.8 218.6,208.1 218.8,206.4 219.1,214.7 219.4,207.9 219.6,193.3 219.9,192.2 220.1,186.9 220.4,184.1 220.6,198.2 220.9,194.4 221.1,198.1 221.4,204.3 221.6,202.5 221.9,200.4 222.1,198.2 222.4,203.7 222.6,207.4 222.9,202.1 223.1,216.8 223.4,217.0 223.6,230.0 223.9,239.7 224.2,239.7 224.4,239.7 224.7,224.7 224.9,209.7 225.2,217.1 225.4,201.4 225.7,198.8 225.9,198.8 226.2,211.6 226.4,213.9 226.7,218.2 226.9,223.6 227.2,223.7 227.4,215.7 227.7,213.5 227.9,196.7 228.2,196.6 228.4,203.7 228.7,199.4 228.9,189.3 229.2,195.0 229.5,189.4 229.7,188.0 230.0,195.9 230.2,194.4 230.5,189.2 230.7,187.3 231.0,198.7 231.2,184.4 231.5,191.0 231.7,197.6 232.0,202.2 232.2,196.9 232.5,206.9 232.7,214.5 233.0,228.0 233.2,231.4 233.5,239.9 233.7,247.3 234.0,244.0 234.3,231.8 234.5,216.3 234.8,209.3 235.0,195.0 235.3,189.9 235.5,184.3 235.8,188.5 236.0,188.5 236.3,187.0 236.5,198.1 236.8,200.9 237.0,199.9 237.3,205.6 237.5,196.9 237.8,207.1 238.0,212.9 238.3,215.2 238.5,225.3 238.8,220.4 239.1,226.3 239.3,236.8 239.6,230.8 239.8,232.3 240.1,217.4 240.3,205.5 240.6,210.9 240.8,197.9 241.1,188.7 241.3,205.5 241.6,187.3 241.8,195.9 242.1,202.6 242.3,217.0 242.6,212.9 242.8,218.7 243.1,212.0 243.3,209.5 243.6,218.7 243.9,218.7 244.1,210.5 244.4,205.8 244.6,202.3 244.9,198.5 245.1,209.8 245.4,206.9 245.6,208.0 245.9,209.8 246.1,213.8 246.4,213.8 246.6,210.2 246.9,192.1 247.1,193.8 247.4,199.2 247.6,181.7 247.9,181.4 248.1,190.6 248.4,199.2 248.7,205.6 248.9,198.9 249.2,212.4 249.4,205.0 249.7,206.3 249.9,205.1 250.2,191.6 250.4,189.2 250.7,198.9 250.9,182.7 251.2,179.3 251.4,176.9 251.7,185.9 251.9,191.2 252.2,203.1 252.4,209.4 252.7,221.3 252.9,232.6 253.2,236.7 253.4,239.2 253.7,229.4 254.0,229.3 254.2,219.1 254.5,216.9 254.7,209.4 255.0,197.9 255.2,201.6 255.5,195.0 255.7,209.4 256.0,207.2 256.2,203.2 256.5,201.2 256.7,211.6 257.0,201.1 257.2,208.3 257.5,213.6 257.7,208.0 258.0,202.3 258.2,207.8 258.5,194.3 258.8,199.0 259.0,192.7 259.3,190.7 259.5,194.2 259.8,190.7 260.0,201.8 260.3,191.1 260.5,201.8 260.8,191.8 261.0,201.8 261.3,194.2 261.5,192.8 261.8,200.4 262.0,201.8 262.3,189.8 262.5,201.5 262.8,188.7 263.0,191.3 263.3,190.1 263.6,188.8 263.8,180.6 264.1,190.5 264.3,187.2 264.6,184.3 264.8,183.8 265.1,188.4 265.3,198.4 265.6,215.1 265.8,205.8 266.1,193.3 266.3,188.4 266.6,195.3 266.8,181.7 267.1,177.2 267.3,185.4 267.6,178.6 267.8,174.4 268.1,173.2 268.4,173.2 268.6,174.1 268.9,180.9 269.1,184.9 269.4,190.6 269.6,191.9 269.9,189.6 270.1,187.0 270.4,178.4 270.6,178.4 270.9,178.4 271.1,178.4 271.4,180.4 271.6,189.4 271.9,191.0 272.1,202.9 272.4,223.0 272.6,238.7 272.9,239.3 273.1,234.9 273.4,220.2 273.7,206.4 273.9,207.8 274.2,213.6 274.4,198.1 274.7,208.1 274.9,211.8 275.2,211.6 275.4,203.6 275.7,211.6 275.9,211.3 276.2,208.7 276.4,207.6 276.7,210.9 276.9,204.2 277.2,197.2 277.4,199.6 277.7,189.4 277.9,189.4 278.2,202.4 278.5,205.7 278.7,211.6 279.0,203.5 279.2,218.9 279.5,215.0 279.7,221.4 280.0,204.6 280.2,217.2 280.5,220.1 280.7,218.6 281.0,229.1 281.2,244.9 281.5,241.8 281.7,236.5 282.0,233.3 282.2,221.9 282.5,211.6 282.7,194.2 283.0,190.7 283.3,191.6 283.5,186.7 283.8,190.6 284.0,204.1 284.3,221.4 284.5,219.7 284.8,225.0 285.0,224.2 285.3,216.5 285.5,211.2 285.8,210.2 286.0,202.8 286.3,196.6 286.5,197.5 286.8,186.9 287.0,187.5 287.3,180.3 287.5,195.4 287.8,182.0 288.1,175.5 288.3,178.6 288.6,189.3 288.8,190.1 289.1,200.2 289.3,205.2 289.6,215.3 289.8,211.0 290.1,207.1 290.3,202.2 290.6,199.0 290.8,200.0 291.1,194.2 291.3,200.6 291.6,193.4 291.8,205.2 292.1,205.2 292.3,211.3 292.6,207.9 292.8,219.5 293.1,238.9 293.4,250.7 293.6,251.7 293.9,243.5 294.1,225.7 294.4,214.5 294.6,211.9 294.9,221.5 295.1,218.7 295.4,211.8 295.6,205.6 295.9,204.7 296.1,200.1 296.4,194.8 296.6,205.2 296.9,198.0 297.1,201.1 297.4,209.5 297.6,209.5 297.9,205.5 298.2,206.4 298.4,195.1 298.7,194.9 298.9,184.8 299.2,200.1 299.4,184.8 299.7,192.1 299.9,184.8 300.2,184.8 300.4,191.4 300.7,198.4 300.9,205.0 301.2,214.9 301.4,213.7 301.7,214.9 301.9,207.4 302.2,211.5 302.4,205.2 302.7,198.7 303.0,197.6 303.2,194.8 303.5,200.6 303.7,206.1 304.0,205.6 304.2,209.2 304.5,222.5 304.7,214.1 305.0,219.4 305.2,224.4 305.5,212.3 305.7,215.0 306.0,221.7 306.2,215.0 306.5,232.5 306.7,211.9 307.0,232.5 307.2,232.5 307.5,228.3 307.8,213.9 308.0,208.9 308.3,196.3 308.5,200.0 308.8,183.7 309.0,186.4 309.3,192.1 309.5,182.3 309.8,182.6 310.0,184.8 310.3,182.3 310.5,190.4 310.8,187.7 311.0,182.3 311.3,189.4 311.5,187.3 311.8,189.8 312.0,195.1 312.3,188.9 312.6,196.2 312.8,188.0 313.1,198.2 313.3,196.4 313.6,201.4 313.8,196.4 314.1,194.7 314.3,191.8 314.6,197.8 314.8,199.1 315.1,200.4 315.3,198.8 315.6,197.2 315.8,196.6 316.1,198.8 316.3,193.8 316.6,198.2 316.8,191.6 317.1,178.7 317.3,176.4 317.6,184.5 317.9,182.5 318.1,183.3 318.4,189.4 318.6,184.7 318.9,182.8 319.1,179.8 319.4,180.8 319.6,187.9 319.9,180.8 320.1,184.1 320.4,187.6 320.6,198.5 320.9,197.1 321.1,193.2 321.4,184.2 321.6,184.7 321.9,184.2 322.1,189.4 322.4,191.0 322.7,190.8 322.9,202.1 323.2,197.6 323.4,199.3 323.7,198.1 323.9,197.5 324.2,206.4 324.4,208.4 324.7,200.3 324.9,208.4 325.2,202.4 325.4,198.5 325.7,192.0 325.9,188.4 326.2,188.4 326.4,204.2 326.7,202.5 326.9,200.2 327.2,216.9 327.5,217.4 327.7,213.7 328.0,215.7 328.2,225.1 328.5,240.8 328.7,239.3 329.0,230.6 329.2,225.9 329.5,219.5 329.7,196.4 330.0,198.1 330.2,192.1 330.5,190.6 330.7,190.6 331.0,192.2 331.2,193.9 331.5,189.9 331.7,194.5 332.0,198.9 332.3,185.1 332.5,183.1 332.8,187.8 333.0,187.7 333.3,186.6 333.5,183.1 333.8,198.4 334.0,193.0 334.3,194.8 334.5,201.5 334.8,208.0 335.0,216.9 335.3,220.9 335.5,221.7 335.8,222.8 336.0,215.8 336.3,215.8 336.5,199.5 336.8,196.5 337.0,205.1 337.3,196.5 337.6,196.5 337.8,196.9 338.1,196.5 338.3,199.2 338.6,209.8 338.8,196.5 339.1,209.8 339.3,209.8 339.6,201.4 339.8,200.3 340.1,203.8 340.3,207.3 340.6,192.7 340.8,196.2 341.1,192.8 341.3,196.8 341.6,195.9 341.8,198.6 342.1,194.5 342.4,196.6 342.6,192.7 342.9,194.0 343.1,195.1 343.4,197.1 343.6,194.3 343.9,203.8 344.1,202.0 344.4,194.9 344.6,207.8 344.9,198.9 345.1,204.8 345.4,204.0 345.6,207.5 345.9,209.1 346.1,210.8 346.4,223.0 346.6,242.8 346.9,225.7 347.2,240.9 347.4,243.8 347.7,226.9 347.9,215.1 348.2,227.2 348.4,207.6 348.7,215.4 348.9,205.1 349.2,205.1 349.4,209.9 349.7,213.3 349.9,217.3 350.2,217.2 350.4,217.1 350.7,212.2 350.9,213.6 351.2,205.6 351.4,194.3 351.7,195.0 352.0,199.1 352.2,192.6 352.5,192.6 352.7,188.2 353.0,190.8 353.2,193.3 353.5,195.1 353.7,188.5 354.0,194.5 354.2,185.5 354.5,191.9 354.7,188.9 355.0,184.8 355.2,180.3 355.5,180.3 355.7,184.2 356.0,187.9 356.2,198.8 356.5,181.9 356.7,201.2 357.0,191.6 357.3,199.5 357.5,187.2 357.8,201.8 358.0,202.3 358.3,211.1 358.5,210.4 358.8,205.5 359.0,214.7 359.3,214.7 359.5,211.7 359.8,208.9 360.0,204.8 360.3,196.7 360.5,188.3 360.8,188.3 361.0,199.2 361.3,194.4 361.5,189.8 361.8,189.1 362.1,194.8 362.3,198.0 362.6,199.1 362.8,200.3 363.1,219.2 363.3,212.6 363.6,213.1 363.8,214.3 364.1,218.2 364.3,216.7 364.6,207.4 364.8,193.7 365.1,194.6 365.3,192.0 365.6,192.0 365.8,208.6 366.1,212.4 366.3,232.8 366.6,219.8 366.9,227.0 367.1,232.8 367.4,230.5 367.6,222.3 367.9,222.8 368.1,222.1 368.4,211.4 368.6,197.0 368.9,193.2 369.1,188.8 369.4,180.7 369.6,175.2 369.9,174.3 370.1,179.4 370.4,182.0 370.6,179.7 370.9,184.4 371.1,182.7 371.4,176.2 371.7,177.2 371.9,185.7 372.2,185.0 372.4,193.8 372.7,187.9 372.9,194.9 373.2,196.9 373.4,196.9 373.7,192.6 373.9,191.1 374.2,189.1 374.4,184.4 374.7,191.1 374.9,197.3 375.2,192.2 375.4,210.1 375.7,202.0 375.9,206.9 376.2,209.2 376.5,208.5 376.7,215.3 377.0,213.2 377.2,215.3 377.5,210.1 377.7,206.8 378.0,200.1 378.2,191.0 378.5,196.0 378.7,189.9 379.0,197.9 379.2,190.7 379.5,198.8 379.7,192.4 380.0,191.7 380.2,187.7 380.5,186.9 380.7,188.7 381.0,192.0 381.2,185.6 381.5,194.7 381.8,199.7 382.0,195.6 382.3,196.5 382.5,194.9 382.8,191.0 383.0,201.9 383.3,197.7 383.5,200.3 383.8,201.9 384.0,202.9 384.3,196.3 384.5,205.7 384.8,202.9 385.0,201.6 385.3,204.5 385.5,204.3 385.8,215.7 386.0,212.7 386.3,212.7 386.6,219.2 386.8,218.8 387.1,218.4 387.3,221.2 387.6,229.3 387.8,229.2 388.1,227.8 388.3,221.1 388.6,221.4" fill="none" stroke="#5375bb" stroke-width="1.0" stroke-linejoin="round"/>
<line x1="25.0" x2="388.7" y1="205.34" y2="203.98" stroke="#1f8a55" stroke-width="1.1" stroke-dasharray="2.4,0.7"/>
<text x="19.6" y="261.30" text-anchor="end" font-weight="bold" font-size="4.9" fill="#1a1a1a" stroke="#1a1a1a" stroke-width="0.2">−4</text>
<text x="19.6" y="247.61" text-anchor="end" font-weight="bold" font-size="4.9" fill="#1a1a1a" stroke="#1a1a1a" stroke-width="0.2">−3</text>
<text x="19.6" y="233.93" text-anchor="end" font-weight="bold" font-size="4.9" fill="#1a1a1a" stroke="#1a1a1a" stroke-width="0.2">−2</text>
<text x="19.6" y="220.24" text-anchor="end" font-weight="bold" font-size="4.9" fill="#1a1a1a" stroke="#1a1a1a" stroke-width="0.2">−1</text>
<text x="19.6" y="206.55" text-anchor="end" font-weight="bold" font-size="4.9" fill="#1a1a1a" stroke="#1a1a1a" stroke-width="0.2">0</text>
<text x="19.6" y="192.86" text-anchor="end" font-weight="bold" font-size="4.9" fill="#1a1a1a" stroke="#1a1a1a" stroke-width="0.2">1</text>
<text x="19.6" y="179.18" text-anchor="end" font-weight="bold" font-size="4.9" fill="#1a1a1a" stroke="#1a1a1a" stroke-width="0.2">2</text>
<text x="19.6" y="165.49" text-anchor="end" font-weight="bold" font-size="4.9" fill="#1a1a1a" stroke="#1a1a1a" stroke-width="0.2">3</text>
<text x="19.6" y="151.80" text-anchor="end" font-weight="bold" font-size="4.9" fill="#1a1a1a" stroke="#1a1a1a" stroke-width="0.2">4</text>
<text x="79.3" y="268.80" text-anchor="middle" font-weight="bold" font-size="4.9" fill="#111" stroke="#111" stroke-width="0.2">1919</text>
<text x="155.4" y="268.80" text-anchor="middle" font-weight="bold" font-size="4.9" fill="#111" stroke="#111" stroke-width="0.2">1944</text>
<text x="231.5" y="268.80" text-anchor="middle" font-weight="bold" font-size="4.9" fill="#111" stroke="#111" stroke-width="0.2">1969</text>
<text x="306.8" y="268.80" text-anchor="middle" font-weight="bold" font-size="4.9" fill="#111" stroke="#111" stroke-width="0.2">1994</text>
<text x="382.6" y="268.80" text-anchor="middle" font-weight="bold" font-size="4.9" fill="#111" stroke="#111" stroke-width="0.2">2019</text>
<text transform="translate(10.8,204.25) rotate(-90)" text-anchor="middle" font-weight="bold" font-size="4.8" fill="#111" stroke="#111" stroke-width="0.25" textLength="10.1" lengthAdjust="spacingAndGlyphs">SPI6</text>
<text x="234.2" y="160.40" font-style="italic" font-size="6.0" fill="#2a2a2a" stroke="#2a2a2a" stroke-width="0.08" textLength="89.5" lengthAdjust="spacingAndGlyphs">y = 3.541 × 10<tspan dy="-1.8" font-size="3.6">-4</tspan><tspan dy="1.8"> × x + -5.627 × 10</tspan><tspan dy="-1.8" font-size="3.6">-3</tspan></text>
<rect x="25.0" y="287.4" width="363.7" height="109.5" fill="#dcdcdc"/>
<line x1="25.0" x2="388.7" y1="383.21" y2="383.21" stroke="#f2f2f2" stroke-width="0.8"/>
<line x1="25.0" x2="388.7" y1="328.46" y2="328.46" stroke="#f2f2f2" stroke-width="0.8"/>
<line x1="25.0" x2="388.7" y1="314.77" y2="314.77" stroke="#f2f2f2" stroke-width="0.8"/>
<line x1="25.0" x2="388.7" y1="301.09" y2="301.09" stroke="#f2f2f2" stroke-width="0.8"/>
<line x1="79.3" x2="79.3" y1="287.4" y2="396.9" stroke="#f2f2f2" stroke-width="0.8"/>
<line x1="155.4" x2="155.4" y1="287.4" y2="396.9" stroke="#f2f2f2" stroke-width="0.8"/>
<line x1="231.5" x2="231.5" y1="287.4" y2="396.9" stroke="#f2f2f2" stroke-width="0.8"/>
<line x1="306.8" x2="306.8" y1="287.4" y2="396.9" stroke="#f2f2f2" stroke-width="0.8"/>
<line x1="382.6" x2="382.6" y1="287.4" y2="396.9" stroke="#f2f2f2" stroke-width="0.8"/>
<line x1="25.0" x2="388.7" y1="355.84" y2="355.84" stroke="#e0c890" stroke-width="1"/>
<line x1="25.0" x2="388.7" y1="369.52" y2="369.52" stroke="#b89898" stroke-width="1"/>
<polyline points="27.1,335.6 27.4,336.3 27.7,337.7 27.9,340.5 28.2,343.2 28.4,345.2 28.7,346.1 28.9,346.2 29.2,348.0 29.4,349.0 29.7,350.9 29.9,350.7 30.2,349.9 30.4,347.7 30.7,343.6 30.9,341.5 31.2,338.5 31.4,337.9 31.7,339.4 31.9,339.9 32.2,338.1 32.5,335.1 32.7,335.1 33.0,333.3 33.2,335.3 33.5,336.1 33.7,337.2 34.0,340.4 34.2,340.8 34.5,342.3 34.7,342.7 35.0,344.9 35.2,344.2 35.5,343.5 35.7,341.9 36.0,343.5 36.2,342.6 36.5,342.3 36.7,343.6 37.0,342.6 37.2,340.7 37.5,340.1 37.8,342.3 38.0,344.7 38.3,345.2 38.5,347.4 38.8,345.6 39.0,348.3 39.3,345.7 39.5,345.7 39.8,342.8 40.0,342.4 40.3,340.0 40.5,338.5 40.8,337.9 41.0,337.5 41.3,336.3 41.5,337.5 41.8,336.8 42.0,335.0 42.3,333.4 42.6,335.1 42.8,335.6 43.1,338.8 43.3,339.1 43.6,340.5 43.8,341.3 44.1,341.4 44.3,343.0 44.6,342.8 44.8,343.3 45.1,343.3 45.3,344.2 45.6,345.7 45.8,348.3 46.1,346.9 46.3,347.7 46.6,347.5 46.8,346.1 47.1,345.1 47.4,344.9 47.6,345.1 47.9,341.9 48.1,343.9 48.4,343.7 48.6,343.2 48.9,343.9 49.1,344.2 49.4,344.1 49.6,341.7 49.9,341.2 50.1,340.7 50.4,340.4 50.6,340.3 50.9,341.7 51.1,340.6 51.4,339.8 51.6,338.6 51.9,337.5 52.2,337.3 52.4,337.2 52.7,338.6 52.9,337.9 53.2,337.0 53.4,337.5 53.7,337.9 53.9,336.2 54.2,339.9 54.4,339.0 54.7,339.6 54.9,341.6 55.2,341.6 55.4,342.3 55.7,346.0 55.9,344.4 56.2,346.5 56.4,348.6 56.7,347.8 57.0,349.6 57.2,349.6 57.5,350.1 57.7,345.6 58.0,344.6 58.2,344.0 58.5,342.4 58.7,340.9 59.0,342.4 59.2,343.0 59.5,344.2 59.7,345.6 60.0,345.0 60.2,343.6 60.5,342.2 60.7,340.1 61.0,341.9 61.2,343.0 61.5,343.3 61.7,344.6 62.0,344.6 62.3,347.6 62.5,349.0 62.8,347.5 63.0,348.7 63.3,346.8 63.5,346.7 63.8,344.3 64.0,342.6 64.3,341.0 64.5,340.4 64.8,338.5 65.0,340.5 65.3,339.5 65.5,340.2 65.8,339.2 66.0,339.3 66.3,337.7 66.5,338.2 66.8,337.3 67.1,339.9 67.3,338.8 67.6,338.8 67.8,338.2 68.1,339.0 68.3,337.2 68.6,340.2 68.8,339.4 69.1,342.7 69.3,340.6 69.6,342.4 69.8,342.6 70.1,346.4 70.3,344.1 70.6,344.5 70.8,343.1 71.1,341.1 71.3,342.5 71.6,343.8 71.9,344.2 72.1,346.5 72.4,346.6 72.6,347.5 72.9,346.3 73.1,345.7 73.4,345.4 73.6,342.7 73.9,341.3 74.1,339.3 74.4,338.0 74.6,339.5 74.9,337.3 75.1,338.7 75.4,341.1 75.6,342.9 75.9,347.2 76.1,345.4 76.4,349.2 76.7,350.7 76.9,349.5 77.2,350.0 77.4,350.1 77.7,350.4 77.9,347.2 78.2,345.0 78.4,345.2 78.7,343.6 78.9,339.7 79.2,335.1 79.4,335.7 79.7,332.1 79.9,331.3 80.2,328.6 80.4,326.9 80.7,325.6 80.9,327.4 81.2,327.8 81.4,325.5 81.7,327.4 82.0,330.7 82.2,329.6 82.5,329.5 82.7,330.6 83.0,329.6 83.2,330.2 83.5,330.8 83.7,331.6 84.0,331.4 84.2,333.8 84.5,334.7 84.7,337.2 85.0,339.6 85.2,343.1 85.5,344.5 85.7,346.2 86.0,348.4 86.2,349.5 86.5,351.3 86.8,351.7 87.0,353.8 87.3,352.4 87.5,349.9 87.8,347.0 88.0,345.7 88.3,343.3 88.5,340.8 88.8,337.9 89.0,337.6 89.3,340.4 89.5,340.2 89.8,339.3 90.0,336.2 90.3,337.1 90.5,334.9 90.8,334.9 91.0,334.0 91.3,332.4 91.6,332.1 91.8,331.1 92.1,332.5 92.3,332.2 92.6,334.9 92.8,336.2 93.1,338.7 93.3,339.9 93.6,340.7 93.8,343.2 94.1,343.9 94.3,346.1 94.6,347.1 94.8,347.1 95.1,348.8 95.3,349.2 95.6,348.4 95.8,348.4 96.1,347.4 96.4,344.2 96.6,342.9 96.9,341.6 97.1,343.7 97.4,342.6 97.6,340.0 97.9,341.0 98.1,340.2 98.4,338.2 98.6,338.3 98.9,337.8 99.1,339.0 99.4,336.4 99.6,336.7 99.9,337.9 100.1,335.3 100.4,335.3 100.6,334.7 100.9,334.4 101.1,336.3 101.4,337.6 101.7,337.2 101.9,339.7 102.2,341.9 102.4,343.4 102.7,342.7 102.9,344.9 103.2,345.4 103.4,348.7 103.7,349.1 103.9,350.0 104.2,349.5 104.4,349.5 104.7,349.8 104.9,348.8 105.2,346.6 105.4,346.3 105.7,345.5 105.9,345.3 106.2,344.7 106.5,344.5 106.7,346.8 107.0,347.2 107.2,346.4 107.5,345.4 107.7,344.3 108.0,344.7 108.2,344.3 108.5,344.9 108.7,344.8 109.0,345.9 109.2,347.5 109.5,346.5 109.7,345.4 110.0,345.1 110.2,345.2 110.5,343.8 110.7,345.5 111.0,344.4 111.3,345.8 111.5,347.3 111.8,351.1 112.0,355.7 112.3,355.4 112.5,357.4 112.8,358.8 113.0,359.0 113.3,359.2 113.5,360.2 113.8,361.6 114.0,361.9 114.3,364.0 114.5,365.5 114.8,366.2 115.0,367.7 115.3,361.1 115.5,358.5 115.8,348.3 116.1,346.3 116.3,348.1 116.6,342.0 116.8,338.8 117.1,338.8 117.3,340.3 117.6,337.6 117.8,338.3 118.1,337.4 118.3,337.7 118.6,344.0 118.8,340.4 119.1,341.3 119.3,345.0 119.6,349.8 119.8,353.4 120.1,358.0 120.3,362.1 120.6,364.8 120.9,372.8 121.1,377.4 121.4,384.6 121.6,389.6 121.9,384.3 122.1,377.4 122.4,371.9 122.6,362.8 122.9,358.1 123.1,351.3 123.4,343.8 123.6,339.5 123.9,334.1 124.1,334.0 124.4,328.2 124.6,330.9 124.9,330.1 125.1,336.4 125.4,342.7 125.6,344.9 125.9,350.5 126.2,353.4 126.4,362.1 126.7,368.1 126.9,376.0 127.2,379.9 127.4,377.0 127.7,375.2 127.9,368.3 128.2,363.1 128.4,359.0 128.7,351.5 128.9,351.2 129.2,348.1 129.4,346.9 129.7,343.3 129.9,343.2 130.2,339.5 130.4,340.2 130.7,339.2 131.0,337.6 131.2,335.8 131.5,337.9 131.7,334.8 132.0,342.0 132.2,338.4 132.5,336.5 132.7,333.4 133.0,330.3 133.2,330.6 133.5,331.4 133.7,333.6 134.0,333.4 134.2,335.8 134.5,342.5 134.7,342.8 135.0,351.0 135.2,350.6 135.5,346.7 135.8,347.0 136.0,345.5 136.3,338.9 136.5,341.5 136.8,336.9 137.0,337.1 137.3,331.8 137.5,327.4 137.8,328.5 138.0,327.2 138.3,327.1 138.5,325.3 138.8,323.1 139.0,321.1 139.3,321.5 139.5,325.7 139.8,328.6 140.0,332.3 140.3,327.4 140.6,330.0 140.8,328.1 141.1,330.7 141.3,327.5 141.6,325.2 141.8,326.2 142.1,324.1 142.3,328.6 142.6,330.2 142.8,338.7 143.1,338.4 143.3,330.7 143.6,327.3 143.8,323.7 144.1,319.6 144.3,318.9 144.6,316.5 144.8,316.4 145.1,317.5 145.3,319.8 145.6,318.2 145.9,318.7 146.1,323.1 146.4,321.0 146.6,325.1 146.9,324.8 147.1,327.3 147.4,330.6 147.6,331.0 147.9,333.2 148.1,332.9 148.4,335.8 148.6,340.3 148.9,344.2 149.1,344.8 149.4,345.7 149.6,342.2 149.9,341.5 150.1,341.6 150.4,338.6 150.7,337.0 150.9,334.0 151.2,337.1 151.4,335.0 151.7,338.4 151.9,336.5 152.2,342.0 152.4,340.8 152.7,345.7 152.9,344.0 153.2,344.6 153.4,344.5 153.7,339.0 153.9,337.7 154.2,335.9 154.4,332.7 154.7,336.1 154.9,335.8 155.2,332.1 155.5,333.1 155.7,329.6 156.0,327.8 156.2,329.4 156.5,328.9 156.7,333.9 157.0,328.6 157.2,333.9 157.5,336.3 157.7,333.8 158.0,336.2 158.2,341.7 158.5,342.1 158.7,345.5 159.0,348.6 159.2,348.4 159.5,349.3 159.7,348.9 160.0,355.3 160.3,357.6 160.5,363.5 160.8,367.4 161.0,368.8 161.3,369.4 161.5,364.4 161.8,360.0 162.0,353.1 162.3,352.8 162.5,351.0 162.8,349.7 163.0,347.1 163.3,347.4 163.5,345.1 163.8,343.3 164.0,340.5 164.3,344.7 164.5,344.5 164.8,341.7 165.0,345.6 165.3,344.5 165.6,344.0 165.8,340.1 166.1,338.3 166.3,336.1 166.6,336.6 166.8,333.4 167.1,331.5 167.3,329.3 167.6,329.2 167.8,325.6 168.1,322.2 168.3,324.8 168.6,322.0 168.8,327.5 169.1,331.7 169.3,338.4 169.6,344.5 169.8,348.4 170.1,355.8 170.4,361.7 170.6,373.7 170.9,378.8 171.1,385.3 171.4,387.8 171.6,380.2 171.9,378.8 172.1,368.7 172.4,359.5 172.6,350.5 172.9,346.4 173.1,341.2 173.4,335.7 173.6,338.4 173.9,334.8 174.1,334.6 174.4,338.4 174.6,337.7 174.9,336.3 175.2,334.5 175.4,338.1 175.7,339.1 175.9,338.7 176.2,339.1 176.4,342.8 176.7,345.1 176.9,350.4 177.2,350.8 177.4,349.1 177.7,344.5 177.9,343.9 178.2,342.7 178.4,339.6 178.7,338.6 178.9,340.5 179.2,338.1 179.4,340.1 179.7,339.1 180.0,340.9 180.2,340.9 180.5,346.4 180.7,351.3 181.0,355.7 181.2,352.7 181.5,349.4 181.7,345.9 182.0,342.4 182.2,341.0 182.5,340.1 182.7,336.0 183.0,336.5 183.2,332.6 183.5,330.4 183.7,330.5 184.0,328.5 184.2,329.4 184.5,333.7 184.8,332.2 185.0,333.4 185.3,337.8 185.5,341.0 185.8,341.4 186.0,347.1 186.3,348.8 186.5,351.2 186.8,354.9 187.0,355.0 187.3,358.0 187.5,361.1 187.8,364.2 188.0,364.5 188.3,365.4 188.5,367.5 188.8,368.7 189.0,367.4 189.3,364.2 189.5,357.6 189.8,353.7 190.1,350.5 190.3,345.0 190.6,340.2 190.8,338.9 191.1,332.2 191.3,329.0 191.6,329.2 191.8,329.2 192.1,325.0 192.3,326.3 192.6,323.4 192.8,325.2 193.1,327.0 193.3,330.5 193.6,336.6 193.8,335.3 194.1,344.6 194.3,348.8 194.6,358.2 194.9,367.8 195.1,375.1 195.4,382.2 195.6,384.0 195.9,391.3 196.1,390.0 196.4,392.2 196.6,384.9 196.9,381.4 197.1,373.1 197.4,367.8 197.6,360.1 197.9,356.0 198.1,346.5 198.4,340.2 198.6,335.6 198.9,333.3 199.1,333.5 199.4,330.5 199.7,330.6 199.9,335.1 200.2,334.2 200.4,336.8 200.7,340.3 200.9,339.3 201.2,343.0 201.4,341.7 201.7,345.9 201.9,346.7 202.2,343.2 202.4,342.1 202.7,339.7 202.9,339.7 203.2,340.0 203.4,335.1 203.7,337.6 203.9,333.2 204.2,334.9 204.5,335.0 204.7,342.4 205.0,340.8 205.2,342.6 205.5,342.8 205.7,346.9 206.0,343.6 206.2,348.4 206.5,353.1 206.7,350.8 207.0,352.9 207.2,356.3 207.5,356.6 207.7,360.4 208.0,364.3 208.2,365.7 208.5,368.5 208.7,365.6 209.0,361.5 209.2,356.1 209.5,354.0 209.8,349.8 210.0,345.3 210.3,339.0 210.5,341.6 210.8,340.7 211.0,337.2 211.3,334.5 211.5,333.8 211.8,333.9 212.0,327.9 212.3,325.7 212.5,324.7 212.8,324.9 213.0,321.8 213.3,321.1 213.5,321.0 213.8,324.9 214.0,325.1 214.3,325.9 214.6,326.4 214.8,329.9 215.1,335.3 215.3,339.4 215.6,347.9 215.8,353.1 216.1,357.3 216.3,357.3 216.6,356.6 216.8,354.1 217.1,353.4 217.3,353.9 217.6,345.0 217.8,342.6 218.1,343.1 218.3,342.8 218.6,343.3 218.8,344.1 219.1,346.4 219.4,343.6 219.6,340.6 219.9,335.1 220.1,334.1 220.4,330.0 220.6,330.8 220.9,328.5 221.1,330.2 221.4,333.1 221.6,335.6 221.9,334.5 222.1,340.2 222.4,340.1 222.6,341.8 222.9,345.6 223.1,346.5 223.4,351.7 223.6,355.2 223.9,357.5 224.2,358.3 224.4,354.5 224.7,352.4 224.9,347.8 225.2,348.4 225.4,346.1 225.7,345.7 225.9,345.2 226.2,347.3 226.4,347.6 226.7,350.8 226.9,355.7 227.2,355.5 227.4,352.3 227.7,350.1 227.9,347.7 228.2,344.2 228.4,341.4 228.7,337.9 228.9,336.0 229.2,335.5 229.5,335.6 229.7,334.5 230.0,333.2 230.2,331.5 230.5,331.2 230.7,329.0 231.0,327.6 231.2,326.3 231.5,323.8 231.7,321.8 232.0,322.8 232.2,325.2 232.5,327.0 232.7,329.5 233.0,336.3 233.2,335.3 233.5,339.6 233.7,343.9 234.0,345.3 234.3,345.1 234.5,345.6 234.8,342.3 235.0,339.8 235.3,337.2 235.5,334.0 235.8,332.7 236.0,328.9 236.3,329.5 236.5,331.3 236.8,333.5 237.0,333.7 237.3,335.7 237.5,333.2 237.8,339.5 238.0,342.8 238.3,342.8 238.5,341.8 238.8,342.5 239.1,346.0 239.3,347.2 239.6,352.8 239.8,353.9 240.1,359.3 240.3,363.5 240.6,361.9 240.8,368.9 241.1,368.6 241.3,363.0 241.6,359.7 241.8,355.7 242.1,353.5 242.3,346.7 242.6,347.5 242.8,345.9 243.1,341.7 243.3,341.1 243.6,339.8 243.9,337.5 244.1,340.6 244.4,342.4 244.6,345.0 244.9,349.7 245.1,350.1 245.4,354.2 245.6,360.5 245.9,360.7 246.1,360.8 246.4,356.9 246.6,351.4 246.9,348.4 247.1,343.4 247.4,344.5 247.6,342.2 247.9,339.0 248.1,335.8 248.4,336.3 248.7,335.6 248.9,331.8 249.2,332.6 249.4,331.6 249.7,329.4 249.9,329.9 250.2,330.5 250.4,329.9 250.7,333.9 250.9,335.0 251.2,335.8 251.4,330.6 251.7,330.2 251.9,326.4 252.2,329.1 252.4,330.9 252.7,332.5 252.9,340.9 253.2,341.5 253.4,347.4 253.7,349.5 254.0,353.4 254.2,358.2 254.5,359.0 254.7,363.6 255.0,362.3 255.2,362.0 255.5,355.2 255.7,350.4 256.0,345.5 256.2,343.7 256.5,343.6 256.7,336.4 257.0,337.2 257.2,338.3 257.5,343.7 257.7,343.8 258.0,347.6 258.2,348.9 258.5,353.0 258.8,356.1 259.0,356.3 259.3,350.9 259.5,342.6 259.8,339.1 260.0,334.2 260.3,330.6 260.5,331.6 260.8,325.2 261.0,324.5 261.3,327.7 261.5,331.6 261.8,334.9 262.0,337.2 262.3,339.2 262.5,342.4 262.8,342.6 263.0,342.1 263.3,336.6 263.6,336.0 263.8,323.8 264.1,322.5 264.3,323.9 264.6,321.5 264.8,318.5 265.1,319.4 265.3,322.2 265.6,324.2 265.8,322.6 266.1,325.5 266.3,322.7 266.6,322.0 266.8,320.4 267.1,316.3 267.3,314.1 267.6,316.4 267.8,318.0 268.1,315.8 268.4,314.6 268.6,317.4 268.9,311.7 269.1,313.9 269.4,310.7 269.6,310.6 269.9,309.7 270.1,312.2 270.4,310.6 270.6,313.2 270.9,313.6 271.1,318.5 271.4,318.6 271.6,321.4 271.9,320.7 272.1,324.4 272.4,330.0 272.6,331.8 272.9,336.5 273.1,339.9 273.4,342.1 273.7,343.8 273.9,351.2 274.2,348.7 274.4,345.9 274.7,337.3 274.9,333.8 275.2,333.8 275.4,338.8 275.7,344.7 275.9,347.0 276.2,348.0 276.4,349.8 276.7,352.3 276.9,352.2 277.2,351.7 277.4,348.8 277.7,342.8 277.9,342.9 278.2,345.8 278.5,344.2 278.7,345.6 279.0,345.9 279.2,348.4 279.5,353.3 279.7,353.8 280.0,355.2 280.2,355.4 280.5,362.8 280.7,364.2 281.0,368.0 281.2,363.9 281.5,354.6 281.7,341.6 282.0,336.7 282.2,335.2 282.5,332.8 282.7,334.6 283.0,330.6 283.3,332.2 283.5,332.9 283.8,334.4 284.0,338.4 284.3,337.6 284.5,340.4 284.8,343.2 285.0,347.1 285.3,343.8 285.5,343.0 285.8,338.2 286.0,334.8 286.3,334.0 286.5,332.8 286.8,329.3 287.0,329.2 287.3,330.0 287.5,324.8 287.8,324.3 288.1,325.7 288.3,326.3 288.6,329.5 288.8,332.7 289.1,338.2 289.3,340.9 289.6,342.4 289.8,345.2 290.1,349.6 290.3,351.5 290.6,350.6 290.8,355.2 291.1,356.3 291.3,354.7 291.6,350.8 291.8,347.6 292.1,346.6 292.3,345.7 292.6,349.3 292.8,349.5 293.1,353.7 293.4,356.5 293.6,362.5 293.9,366.7 294.1,372.0 294.4,380.5 294.6,383.9 294.9,380.9 295.1,374.1 295.4,371.5 295.6,363.1 295.9,359.0 296.1,354.3 296.4,352.4 296.6,348.3 296.9,344.2 297.1,343.0 297.4,340.1 297.6,338.6 297.9,336.9 298.2,334.2 298.4,332.9 298.7,332.8 298.9,330.7 299.2,331.8 299.4,333.4 299.7,333.6 299.9,332.2 300.2,332.4 300.4,336.3 300.7,338.2 300.9,342.0 301.2,341.5 301.4,343.2 301.7,346.2 301.9,345.9 302.2,347.5 302.4,351.3 302.7,352.0 303.0,351.7 303.2,352.2 303.5,351.3 303.7,354.6 304.0,354.9 304.2,356.6 304.5,357.0 304.7,359.2 305.0,360.5 305.2,362.3 305.5,365.0 305.7,364.4 306.0,362.4 306.2,365.4 306.5,366.5 306.7,369.7 307.0,373.7 307.2,372.1 307.5,369.0 307.8,368.8 308.0,365.7 308.3,359.7 308.5,354.6 308.8,350.4 309.0,348.8 309.3,340.6 309.5,340.5 309.8,336.6 310.0,330.4 310.3,328.1 310.5,324.7 310.8,323.1 311.0,321.8 311.3,320.4 311.5,321.3 311.8,321.1 312.0,320.2 312.3,324.2 312.6,327.6 312.8,332.3 313.1,333.1 313.3,334.9 313.6,334.1 313.8,332.0 314.1,336.4 314.3,332.7 314.6,333.9 314.8,336.6 315.1,333.9 315.3,335.1 315.6,333.5 315.8,333.8 316.1,334.2 316.3,333.4 316.6,333.0 316.8,331.1 317.1,330.3 317.3,328.4 317.6,325.8 317.9,327.2 318.1,323.8 318.4,322.6 318.6,324.8 318.9,322.6 319.1,321.0 319.4,321.3 319.6,321.0 319.9,317.1 320.1,319.2 320.4,318.3 320.6,321.0 320.9,320.6 321.1,324.6 321.4,324.6 321.6,323.9 321.9,326.4 322.1,324.5 322.4,325.4 322.7,325.1 322.9,323.7 323.2,320.7 323.4,324.1 323.7,326.3 323.9,327.0 324.2,330.0 324.4,328.4 324.7,333.1 324.9,333.3 325.2,335.9 325.4,337.2 325.7,338.7 325.9,337.8 326.2,340.7 326.4,340.7 326.7,342.4 326.9,347.3 327.2,348.8 327.5,349.0 327.7,352.7 328.0,356.5 328.2,361.3 328.5,363.1 328.7,365.3 329.0,363.9 329.2,369.8 329.5,374.2 329.7,377.7 330.0,381.2 330.2,385.2 330.5,393.2 330.7,390.2 331.0,378.5 331.2,367.8 331.5,362.3 331.7,348.3 332.0,340.8 332.3,337.3 332.5,328.4 332.8,325.7 333.0,320.4 333.3,320.8 333.5,319.7 333.8,324.7 334.0,327.1 334.3,330.6 334.5,335.5 334.8,335.3 335.0,337.1 335.3,341.9 335.5,336.0 335.8,335.2 336.0,335.4 336.3,336.8 336.5,338.3 336.8,346.1 337.0,345.2 337.3,343.1 337.6,340.8 337.8,337.4 338.1,335.9 338.3,340.3 338.6,346.2 338.8,346.2 339.1,348.6 339.3,347.2 339.6,351.5 339.8,351.8 340.1,354.9 340.3,349.9 340.6,346.8 340.8,343.0 341.1,339.5 341.3,336.6 341.6,338.2 341.8,333.7 342.1,332.7 342.4,333.1 342.6,331.4 342.9,331.9 343.1,332.9 343.4,332.7 343.6,333.7 343.9,334.4 344.1,337.2 344.4,335.1 344.6,340.5 344.9,340.5 345.1,341.6 345.4,344.5 345.6,344.9 345.9,347.3 346.1,349.1 346.4,345.0 346.6,349.4 346.9,353.4 347.2,356.3 347.4,363.9 347.7,369.8 347.9,379.7 348.2,392.4 348.4,388.0 348.7,377.9 348.9,366.5 349.2,360.3 349.4,354.1 349.7,345.7 349.9,345.9 350.2,347.0 350.4,346.7 350.7,347.1 350.9,353.8 351.2,354.0 351.4,349.4 351.7,342.8 352.0,343.2 352.2,339.1 352.5,341.7 352.7,337.2 353.0,335.4 353.2,331.3 353.5,335.3 353.7,331.5 354.0,330.8 354.2,326.3 354.5,329.4 354.7,328.0 355.0,324.1 355.2,324.3 355.5,324.0 355.7,324.1 356.0,322.1 356.2,323.8 356.5,320.1 356.7,318.8 357.0,318.2 357.3,316.1 357.5,319.7 357.8,323.5 358.0,323.4 358.3,323.8 358.5,327.6 358.8,326.1 359.0,330.7 359.3,333.9 359.5,336.2 359.8,336.0 360.0,340.6 360.3,344.0 360.5,342.6 360.8,346.4 361.0,344.1 361.3,340.4 361.5,341.3 361.8,337.4 362.1,335.0 362.3,332.8 362.6,332.2 362.8,332.9 363.1,333.9 363.3,332.5 363.6,331.9 363.8,337.8 364.1,338.4 364.3,340.6 364.6,341.8 364.8,347.1 365.1,344.5 365.3,343.7 365.6,338.6 365.8,339.0 366.1,337.5 366.3,337.5 366.6,337.0 366.9,334.4 367.1,343.8 367.4,354.8 367.6,370.0 367.9,364.7 368.1,356.2 368.4,352.6 368.6,346.4 368.9,338.7 369.1,335.6 369.4,328.8 369.6,326.0 369.9,320.9 370.1,317.3 370.4,316.9 370.6,315.3 370.9,313.1 371.1,314.2 371.4,309.7 371.7,311.9 371.9,311.1 372.2,316.4 372.4,314.3 372.7,315.1 372.9,315.0 373.2,319.6 373.4,319.7 373.7,322.6 373.9,321.3 374.2,328.1 374.4,329.0 374.7,331.2 374.9,334.3 375.2,334.5 375.4,337.1 375.7,340.9 375.9,343.0 376.2,344.1 376.5,346.6 376.7,347.8 377.0,351.6 377.2,349.8 377.5,345.4 377.7,345.2 378.0,337.0 378.2,337.7 378.5,339.6 378.7,335.4 379.0,332.6 379.2,335.7 379.5,332.9 379.7,328.7 380.0,330.2 380.2,326.9 380.5,325.9 380.7,327.2 381.0,326.2 381.2,326.3 381.5,328.4 381.8,328.4 382.0,331.0 382.3,331.9 382.5,334.1 382.8,333.3 383.0,333.0 383.3,334.0 383.5,336.6 383.8,340.3 384.0,340.4 384.3,340.2 384.5,344.6 384.8,343.5 385.0,348.8 385.3,348.7 385.5,352.4 385.8,354.2 386.0,354.9 386.3,357.8 386.6,357.7 386.8,361.3 387.1,364.1 387.3,366.6 387.6,359.5 387.8,356.5 388.1,353.8 388.3,358.5 388.6,355.9" fill="none" stroke="#5a64b4" stroke-width="1.1" stroke-linejoin="round"/>
<line x1="25.0" x2="388.7" y1="343.93" y2="340.92" stroke="#3a8a40" stroke-width="1.1" stroke-dasharray="2.4,0.7"/>
<text x="19.6" y="399.20" text-anchor="end" font-weight="bold" font-size="4.9" fill="#1a1a1a" stroke="#1a1a1a" stroke-width="0.2">−4</text>
<text x="19.6" y="385.51" text-anchor="end" font-weight="bold" font-size="4.9" fill="#1a1a1a" stroke="#1a1a1a" stroke-width="0.2">−3</text>
<text x="19.6" y="371.82" text-anchor="end" font-weight="bold" font-size="4.9" fill="#1a1a1a" stroke="#1a1a1a" stroke-width="0.2">−2</text>
<text x="19.6" y="358.14" text-anchor="end" font-weight="bold" font-size="4.9" fill="#1a1a1a" stroke="#1a1a1a" stroke-width="0.2">−1</text>
<text x="19.6" y="344.45" text-anchor="end" font-weight="bold" font-size="4.9" fill="#1a1a1a" stroke="#1a1a1a" stroke-width="0.2">0</text>
<text x="19.6" y="330.76" text-anchor="end" font-weight="bold" font-size="4.9" fill="#1a1a1a" stroke="#1a1a1a" stroke-width="0.2">1</text>
<text x="19.6" y="317.07" text-anchor="end" font-weight="bold" font-size="4.9" fill="#1a1a1a" stroke="#1a1a1a" stroke-width="0.2">2</text>
<text x="19.6" y="303.39" text-anchor="end" font-weight="bold" font-size="4.9" fill="#1a1a1a" stroke="#1a1a1a" stroke-width="0.2">3</text>
<text x="19.6" y="289.70" text-anchor="end" font-weight="bold" font-size="4.9" fill="#1a1a1a" stroke="#1a1a1a" stroke-width="0.2">4</text>
<text x="79.3" y="406.70" text-anchor="middle" font-weight="bold" font-size="4.9" fill="#111" stroke="#111" stroke-width="0.2">1919</text>
<text x="155.4" y="406.70" text-anchor="middle" font-weight="bold" font-size="4.9" fill="#111" stroke="#111" stroke-width="0.2">1944</text>
<text x="231.5" y="406.70" text-anchor="middle" font-weight="bold" font-size="4.9" fill="#111" stroke="#111" stroke-width="0.2">1969</text>
<text x="306.8" y="406.70" text-anchor="middle" font-weight="bold" font-size="4.9" fill="#111" stroke="#111" stroke-width="0.2">1994</text>
<text x="382.6" y="406.70" text-anchor="middle" font-weight="bold" font-size="4.9" fill="#111" stroke="#111" stroke-width="0.2">2019</text>
<text transform="translate(10.8,342.15) rotate(-90)" text-anchor="middle" font-weight="bold" font-size="4.8" fill="#111" stroke="#111" stroke-width="0.25" textLength="13.0" lengthAdjust="spacingAndGlyphs">SPI12</text>
<text x="234.2" y="298.30" font-style="italic" font-size="6.0" fill="#2a2a2a" stroke="#2a2a2a" stroke-width="0.08" textLength="86.2" lengthAdjust="spacingAndGlyphs">y = 5.996 × 10<tspan dy="-1.8" font-size="3.6">-4</tspan><tspan dy="1.8"> × x + 4.44 × 10</tspan><tspan dy="-1.8" font-size="3.6">-3</tspan></text>
<rect x="25.0" y="425.2" width="363.7" height="109.5" fill="#dcdcdc"/>
<line x1="25.0" x2="388.7" y1="521.01" y2="521.01" stroke="#f2f2f2" stroke-width="0.8"/>
<line x1="25.0" x2="388.7" y1="466.26" y2="466.26" stroke="#f2f2f2" stroke-width="0.8"/>
<line x1="25.0" x2="388.7" y1="452.57" y2="452.57" stroke="#f2f2f2" stroke-width="0.8"/>
<line x1="25.0" x2="388.7" y1="438.89" y2="438.89" stroke="#f2f2f2" stroke-width="0.8"/>
<line x1="79.3" x2="79.3" y1="425.2" y2="534.7" stroke="#f2f2f2" stroke-width="0.8"/>
<line x1="155.4" x2="155.4" y1="425.2" y2="534.7" stroke="#f2f2f2" stroke-width="0.8"/>
<line x1="231.5" x2="231.5" y1="425.2" y2="534.7" stroke="#f2f2f2" stroke-width="0.8"/>
<line x1="306.8" x2="306.8" y1="425.2" y2="534.7" stroke="#f2f2f2" stroke-width="0.8"/>
<line x1="382.6" x2="382.6" y1="425.2" y2="534.7" stroke="#f2f2f2" stroke-width="0.8"/>
<line x1="25.0" x2="388.7" y1="493.64" y2="493.64" stroke="#d8d088" stroke-width="1"/>
<line x1="25.0" x2="388.7" y1="507.32" y2="507.32" stroke="#a87878" stroke-width="1"/>
<polyline points="30.2,476.9 30.4,478.9 30.7,477.7 30.9,479.9 31.2,480.0 31.4,479.9 31.7,477.4 31.9,478.1 32.2,478.2 32.5,481.0 32.7,479.9 33.0,479.1 33.2,478.1 33.5,478.7 33.7,478.0 34.0,476.2 34.2,476.7 34.5,474.6 34.7,474.4 35.0,473.5 35.2,472.9 35.5,472.5 35.7,472.4 36.0,474.0 36.2,475.9 36.5,476.7 36.7,477.7 37.0,480.9 37.2,480.3 37.5,481.9 37.8,485.3 38.0,486.2 38.3,487.3 38.5,485.6 38.8,483.8 39.0,482.7 39.3,482.0 39.5,479.7 39.8,478.7 40.0,477.3 40.3,477.6 40.5,479.6 40.8,478.9 41.0,477.2 41.3,476.4 41.5,476.1 41.8,476.6 42.0,474.8 42.3,475.1 42.6,473.1 42.8,473.4 43.1,475.5 43.3,476.6 43.6,474.1 43.8,473.7 44.1,474.5 44.3,473.7 44.6,474.4 44.8,476.4 45.1,477.4 45.3,479.4 45.6,480.4 45.8,480.1 46.1,481.0 46.3,480.7 46.6,479.2 46.8,479.1 47.1,480.8 47.4,479.1 47.6,482.0 47.9,482.3 48.1,483.2 48.4,484.8 48.6,485.2 48.9,485.8 49.1,484.1 49.4,483.6 49.6,482.7 49.9,484.6 50.1,484.3 50.4,481.9 50.6,481.5 50.9,480.4 51.1,480.1 51.4,479.5 51.6,480.5 51.9,476.8 52.2,478.7 52.4,477.8 52.7,476.5 52.9,476.5 53.2,475.8 53.4,475.6 53.7,475.6 53.9,472.7 54.2,475.0 54.4,474.2 54.7,476.2 54.9,475.7 55.2,476.6 55.4,476.3 55.7,477.1 55.9,476.8 56.2,476.6 56.4,478.3 56.7,478.8 57.0,480.5 57.2,477.7 57.5,479.6 57.7,481.2 58.0,479.6 58.2,480.7 58.5,482.8 58.7,482.3 59.0,480.3 59.2,482.0 59.5,482.0 59.7,482.1 60.0,482.2 60.2,482.3 60.5,481.7 60.7,482.2 61.0,483.4 61.2,483.1 61.5,484.6 61.7,482.9 62.0,481.4 62.3,483.2 62.5,483.4 62.8,483.0 63.0,482.3 63.3,480.9 63.5,482.0 63.8,479.5 64.0,480.1 64.3,479.1 64.5,478.1 64.8,480.0 65.0,476.6 65.3,477.6 65.5,478.7 65.8,478.3 66.0,479.5 66.3,478.7 66.5,478.2 66.8,480.0 67.1,477.6 67.3,476.9 67.6,475.4 67.8,475.1 68.1,475.7 68.3,475.1 68.6,474.3 68.8,473.5 69.1,474.3 69.3,472.7 69.6,474.5 69.8,475.4 70.1,475.7 70.3,477.2 70.6,477.3 70.8,477.7 71.1,480.0 71.3,479.4 71.6,479.8 71.9,478.6 72.1,479.1 72.4,478.7 72.6,478.8 72.9,479.5 73.1,477.4 73.4,478.0 73.6,478.1 73.9,475.7 74.1,477.9 74.4,479.5 74.6,480.5 74.9,480.0 75.1,481.9 75.4,482.4 75.6,481.3 75.9,483.0 76.1,483.5 76.4,482.8 76.7,481.9 76.9,483.8 77.2,482.3 77.4,481.9 77.7,481.9 77.9,480.9 78.2,481.6 78.4,480.8 78.7,480.4 78.9,479.1 79.2,477.1 79.4,476.6 79.7,476.5 79.9,474.3 80.2,475.7 80.4,471.9 80.7,470.4 80.9,470.5 81.2,468.9 81.4,467.1 81.7,466.0 82.0,465.5 82.2,465.0 82.5,464.5 82.7,463.1 83.0,463.5 83.2,464.1 83.5,464.3 83.7,461.4 84.0,463.3 84.2,464.1 84.5,465.3 84.7,466.3 85.0,467.7 85.2,469.5 85.5,471.1 85.7,473.4 86.0,476.9 86.2,477.2 86.5,479.8 86.8,482.3 87.0,482.8 87.3,482.4 87.5,485.8 87.8,485.6 88.0,485.6 88.3,486.4 88.5,485.7 88.8,485.0 89.0,485.6 89.3,484.2 89.5,482.8 89.8,481.9 90.0,480.8 90.3,479.2 90.5,478.2 90.8,477.8 91.0,476.2 91.3,475.2 91.6,476.4 91.8,474.4 92.1,474.1 92.3,474.5 92.6,475.1 92.8,475.5 93.1,476.1 93.3,475.8 93.6,477.7 93.8,476.6 94.1,478.2 94.3,476.0 94.6,476.9 94.8,478.7 95.1,477.9 95.3,477.7 95.6,478.7 95.8,477.8 96.1,478.8 96.4,477.2 96.6,480.0 96.9,481.5 97.1,484.2 97.4,486.1 97.6,486.3 97.9,487.5 98.1,485.0 98.4,483.2 98.6,482.2 98.9,484.6 99.1,482.5 99.4,481.1 99.6,480.1 99.9,479.0 100.1,480.0 100.4,478.0 100.6,479.6 100.9,478.2 101.1,476.6 101.4,479.3 101.7,478.5 101.9,478.8 102.2,480.5 102.4,479.3 102.7,480.8 102.9,480.1 103.2,479.9 103.4,481.2 103.7,480.7 103.9,482.9 104.2,483.4 104.4,483.4 104.7,484.6 104.9,485.3 105.2,485.3 105.4,487.0 105.7,486.8 105.9,488.2 106.2,487.7 106.5,489.2 106.7,489.9 107.0,489.4 107.2,490.2 107.5,490.6 107.7,492.1 108.0,491.4 108.2,491.8 108.5,492.0 108.7,490.5 109.0,488.3 109.2,489.0 109.5,488.9 109.7,487.0 110.0,487.3 110.2,486.0 110.5,485.7 110.7,486.0 111.0,486.7 111.3,487.9 111.5,489.2 111.8,490.6 112.0,491.5 112.3,492.7 112.5,494.9 112.8,497.2 113.0,497.0 113.3,499.1 113.5,498.7 113.8,498.8 114.0,498.4 114.3,497.9 114.5,498.0 114.8,501.3 115.0,502.6 115.3,502.3 115.5,505.7 115.8,503.2 116.1,503.8 116.3,499.5 116.6,497.4 116.8,495.7 117.1,493.4 117.3,491.7 117.6,491.5 117.8,488.4 118.1,487.2 118.3,485.7 118.6,483.8 118.8,487.6 119.1,487.7 119.3,489.1 119.6,488.3 119.8,491.1 120.1,492.9 120.3,495.9 120.6,502.7 120.9,504.9 121.1,508.1 121.4,512.5 121.6,512.7 121.9,511.4 122.1,509.3 122.4,508.4 122.6,506.1 122.9,500.6 123.1,498.6 123.4,495.3 123.6,498.8 123.9,503.1 124.1,505.2 124.4,506.5 124.6,509.6 124.9,509.8 125.1,507.2 125.4,506.5 125.6,505.8 125.9,502.6 126.2,503.8 126.4,501.7 126.7,500.4 126.9,497.2 127.2,495.8 127.4,494.6 127.7,497.6 127.9,499.6 128.2,501.8 128.4,505.6 128.7,507.3 128.9,506.0 129.2,505.4 129.4,507.1 129.7,504.5 129.9,505.5 130.2,503.4 130.4,498.4 130.7,495.9 131.0,492.8 131.2,488.1 131.5,484.2 131.7,481.8 132.0,481.1 132.2,478.0 132.5,476.3 132.7,474.1 133.0,472.5 133.2,475.1 133.5,471.1 133.7,472.6 134.0,473.6 134.2,473.0 134.5,476.5 134.7,478.6 135.0,478.0 135.2,479.8 135.5,476.2 135.8,475.5 136.0,472.7 136.3,470.5 136.5,469.9 136.8,468.0 137.0,467.8 137.3,466.0 137.5,463.2 137.8,465.1 138.0,466.6 138.3,466.0 138.5,470.0 138.8,470.0 139.0,469.4 139.3,467.1 139.5,467.0 139.8,466.2 140.0,464.6 140.3,464.5 140.6,461.8 140.8,464.8 141.1,461.8 141.3,460.2 141.6,460.9 141.8,460.6 142.1,461.5 142.3,459.9 142.6,461.0 142.8,459.6 143.1,462.7 143.3,460.9 143.6,462.2 143.8,459.1 144.1,460.2 144.3,457.4 144.6,457.6 144.8,456.5 145.1,453.0 145.3,452.5 145.6,451.4 145.9,450.1 146.1,450.5 146.4,450.7 146.6,450.6 146.9,452.6 147.1,453.4 147.4,452.3 147.6,453.9 147.9,455.3 148.1,455.9 148.4,456.2 148.6,458.4 148.9,459.1 149.1,459.5 149.4,459.3 149.6,462.2 149.9,463.0 150.1,461.9 150.4,463.2 150.7,465.6 150.9,464.7 151.2,467.2 151.4,468.1 151.7,468.6 151.9,470.4 152.2,471.3 152.4,475.1 152.7,476.4 152.9,483.5 153.2,483.0 153.4,481.9 153.7,480.3 153.9,480.2 154.2,479.3 154.4,477.8 154.7,476.5 154.9,473.4 155.2,473.4 155.5,471.4 155.7,469.7 156.0,468.7 156.2,469.2 156.5,469.4 156.7,468.5 157.0,473.1 157.2,474.3 157.5,473.9 157.7,474.2 158.0,474.0 158.2,474.4 158.5,472.4 158.7,471.1 159.0,473.8 159.2,473.2 159.5,477.3 159.7,480.3 160.0,481.3 160.3,483.5 160.5,484.9 160.8,486.8 161.0,487.9 161.3,488.4 161.5,489.8 161.8,490.8 162.0,493.0 162.3,494.2 162.5,494.2 162.8,494.5 163.0,496.0 163.3,498.1 163.5,499.3 163.8,496.2 164.0,493.8 164.3,491.1 164.5,491.2 164.8,489.3 165.0,487.7 165.3,486.6 165.6,486.9 165.8,483.1 166.1,482.9 166.3,480.3 166.6,477.0 166.8,475.8 167.1,473.5 167.3,471.6 167.6,470.9 167.8,469.0 168.1,469.8 168.3,470.1 168.6,471.5 168.8,472.6 169.1,469.5 169.3,475.5 169.6,477.1 169.8,482.9 170.1,483.6 170.4,483.3 170.6,483.3 170.9,479.0 171.1,479.6 171.4,480.6 171.6,481.3 171.9,486.3 172.1,488.3 172.4,490.2 172.6,491.4 172.9,496.6 173.1,494.3 173.4,494.1 173.6,496.4 173.9,499.5 174.1,502.0 174.4,504.9 174.6,505.4 174.9,503.9 175.2,499.9 175.4,496.0 175.7,493.7 175.9,492.0 176.2,491.0 176.4,488.5 176.7,485.5 176.9,483.7 177.2,482.2 177.4,482.5 177.7,478.3 177.9,477.9 178.2,479.6 178.4,480.4 178.7,484.1 178.9,486.6 179.2,485.4 179.4,484.9 179.7,483.8 180.0,482.4 180.2,481.5 180.5,482.7 180.7,485.7 181.0,483.1 181.2,485.1 181.5,484.1 181.7,481.7 182.0,480.5 182.2,478.3 182.5,477.4 182.7,476.6 183.0,473.9 183.2,473.0 183.5,471.5 183.7,471.3 184.0,472.9 184.2,473.1 184.5,476.2 184.8,478.5 185.0,480.1 185.3,481.3 185.5,480.8 185.8,484.9 186.0,484.2 186.3,483.9 186.5,484.8 186.8,480.8 187.0,482.2 187.3,485.1 187.5,488.2 187.8,491.1 188.0,495.8 188.3,497.9 188.5,502.3 188.8,505.5 189.0,505.8 189.3,509.7 189.5,513.0 189.8,515.3 190.1,516.7 190.3,512.2 190.6,506.2 190.8,499.1 191.1,495.6 191.3,492.0 191.6,485.7 191.8,481.3 192.1,480.4 192.3,479.5 192.6,475.9 192.8,475.6 193.1,476.7 193.3,475.3 193.6,477.0 193.8,477.7 194.1,479.5 194.3,477.3 194.6,478.6 194.9,480.7 195.1,484.0 195.4,483.8 195.6,483.5 195.9,490.8 196.1,496.0 196.4,500.1 196.6,505.1 196.9,510.5 197.1,514.8 197.4,517.3 197.6,521.2 197.9,521.1 198.1,515.2 198.4,509.1 198.6,504.7 198.9,499.3 199.1,495.6 199.4,492.9 199.7,488.7 199.9,485.3 200.2,480.6 200.4,481.5 200.7,479.1 200.9,477.6 201.2,476.3 201.4,477.5 201.7,476.3 201.9,473.9 202.2,472.6 202.4,473.0 202.7,472.5 202.9,474.7 203.2,471.5 203.4,471.2 203.7,472.7 203.9,473.0 204.2,473.9 204.5,475.6 204.7,477.9 205.0,476.5 205.2,477.3 205.5,477.1 205.7,480.1 206.0,481.7 206.2,481.6 206.5,484.1 206.7,483.9 207.0,486.4 207.2,486.7 207.5,486.8 207.7,488.8 208.0,489.4 208.2,490.7 208.5,494.2 208.7,496.3 209.0,498.9 209.2,498.9 209.5,500.8 209.8,501.9 210.0,505.9 210.3,502.3 210.5,498.3 210.8,496.5 211.0,493.3 211.3,487.4 211.5,486.4 211.8,482.3 212.0,478.2 212.3,474.4 212.5,472.8 212.8,468.8 213.0,466.0 213.3,464.0 213.5,465.5 213.8,468.1 214.0,466.6 214.3,465.8 214.6,463.4 214.8,465.8 215.1,464.2 215.3,464.4 215.6,464.9 215.8,465.0 216.1,465.9 216.3,467.9 216.6,467.6 216.8,470.5 217.1,470.7 217.3,474.1 217.6,480.1 217.8,482.4 218.1,485.9 218.3,486.0 218.6,485.1 218.8,488.9 219.1,487.1 219.4,488.0 219.6,483.8 219.9,482.0 220.1,482.8 220.4,481.6 220.6,480.0 220.9,477.4 221.1,478.3 221.4,476.1 221.6,478.0 221.9,478.5 222.1,479.7 222.4,481.8 222.6,479.6 222.9,479.9 223.1,479.2 223.4,476.0 223.6,476.4 223.9,480.1 224.2,482.8 224.4,486.7 224.7,487.4 224.9,492.1 225.2,492.9 225.4,492.9 225.7,492.5 225.9,494.7 226.2,494.7 226.4,496.3 226.7,496.0 226.9,497.3 227.2,496.5 227.4,500.8 227.7,499.6 227.9,503.4 228.2,502.8 228.4,497.3 228.7,496.0 228.9,490.5 229.2,489.1 229.5,485.5 229.7,483.5 230.0,481.6 230.2,479.5 230.5,477.5 230.7,478.4 231.0,474.5 231.2,471.9 231.5,472.8 231.7,471.6 232.0,471.0 232.2,470.5 232.5,467.3 232.7,469.9 233.0,470.6 233.2,470.1 233.5,471.0 233.7,467.9 234.0,470.1 234.3,472.2 234.5,468.5 234.8,469.5 235.0,471.2 235.3,472.5 235.5,474.6 235.8,472.3 236.0,474.9 236.3,474.3 236.5,470.6 236.8,470.4 237.0,470.9 237.3,469.7 237.5,469.9 237.8,467.8 238.0,471.4 238.3,472.9 238.5,473.7 238.8,475.6 239.1,480.4 239.3,478.8 239.6,479.7 239.8,481.9 240.1,482.2 240.3,483.1 240.6,484.1 240.8,485.8 241.1,486.1 241.3,485.6 241.6,487.5 241.8,488.9 242.1,489.4 242.3,493.5 242.6,495.7 242.8,496.4 243.1,500.3 243.3,501.8 243.6,499.2 243.9,495.5 244.1,494.4 244.4,490.7 244.6,488.2 244.9,488.5 245.1,486.5 245.4,485.1 245.6,483.1 245.9,485.1 246.1,486.0 246.4,488.7 246.6,490.7 246.9,490.3 247.1,489.0 247.4,484.3 247.6,483.2 247.9,483.3 248.1,482.5 248.4,480.6 248.7,479.8 248.9,478.2 249.2,479.4 249.4,478.4 249.7,474.4 249.9,474.8 250.2,473.1 250.4,471.3 250.7,467.8 250.9,467.6 251.2,463.7 251.4,467.3 251.7,466.7 251.9,466.3 252.2,469.6 252.4,470.3 252.7,469.8 252.9,473.9 253.2,472.0 253.4,474.6 253.7,476.4 254.0,473.3 254.2,477.0 254.5,476.4 254.7,476.8 255.0,476.7 255.2,479.4 255.5,479.2 255.7,480.6 256.0,482.4 256.2,484.5 256.5,490.3 256.7,490.5 257.0,494.1 257.2,501.4 257.5,508.9 257.7,510.5 258.0,506.4 258.2,501.2 258.5,497.4 258.8,494.9 259.0,492.8 259.3,489.7 259.5,485.5 259.8,481.3 260.0,483.0 260.3,479.3 260.5,476.1 260.8,473.6 261.0,472.1 261.3,471.2 261.5,471.4 261.8,471.1 262.0,470.2 262.3,468.0 262.5,467.7 262.8,467.2 263.0,464.7 263.3,463.9 263.6,460.4 263.8,460.9 264.1,460.0 264.3,459.4 264.6,459.4 264.8,462.0 265.1,461.8 265.3,465.4 265.6,466.7 265.8,470.0 266.1,469.4 266.3,464.2 266.6,461.6 266.8,457.3 267.1,454.9 267.3,451.5 267.6,449.3 267.8,448.3 268.1,447.3 268.4,447.1 268.6,447.6 268.9,447.3 269.1,447.4 269.4,446.8 269.6,445.6 269.9,444.5 270.1,444.6 270.4,447.9 270.6,446.5 270.9,447.3 271.1,447.5 271.4,447.6 271.6,447.6 271.9,446.0 272.1,446.4 272.4,451.2 272.6,451.8 272.9,456.2 273.1,458.8 273.4,462.6 273.7,465.9 273.9,467.3 274.2,467.6 274.4,467.2 274.7,467.9 274.9,469.0 275.2,469.0 275.4,474.1 275.7,477.1 275.9,480.8 276.2,483.2 276.4,487.2 276.7,489.9 276.9,493.7 277.2,492.1 277.4,492.5 277.7,492.4 277.9,489.5 278.2,490.4 278.5,490.3 278.7,494.0 279.0,493.0 279.2,494.2 279.5,492.7 279.7,490.9 280.0,492.1 280.2,492.8 280.5,495.0 280.7,497.3 281.0,498.8 281.2,500.5 281.5,503.3 281.7,504.5 282.0,507.0 282.2,500.0 282.5,492.7 282.7,486.9 283.0,480.5 283.3,478.5 283.5,477.1 283.8,471.7 284.0,471.3 284.3,472.5 284.5,477.2 284.8,481.2 285.0,482.8 285.3,484.2 285.5,487.3 285.8,488.2 286.0,488.2 286.3,481.4 286.5,478.3 286.8,469.9 287.0,464.6 287.3,470.2 287.5,472.2 287.8,474.2 288.1,478.8 288.3,480.8 288.6,484.3 288.8,486.9 289.1,487.2 289.3,486.2 289.6,482.4 289.8,478.2 290.1,475.3 290.3,473.7 290.6,469.1 290.8,466.3 291.1,465.9 291.3,469.1 291.6,471.3 291.8,477.2 292.1,480.7 292.3,482.6 292.6,485.4 292.8,486.2 293.1,488.8 293.4,492.1 293.6,492.8 293.9,497.3 294.1,500.1 294.4,502.2 294.6,506.3 294.9,508.3 295.1,507.1 295.4,507.1 295.6,504.3 295.9,502.4 296.1,502.8 296.4,507.0 296.6,509.2 296.9,511.0 297.1,510.9 297.4,506.6 297.6,500.6 297.9,496.3 298.2,493.1 298.4,490.3 298.7,488.8 298.9,486.9 299.2,485.9 299.4,483.7 299.7,482.0 299.9,480.6 300.2,479.5 300.4,476.5 300.7,476.3 300.9,474.7 301.2,472.9 301.4,472.9 301.7,473.3 301.9,474.0 302.2,473.4 302.4,475.8 302.7,477.0 303.0,478.8 303.2,480.7 303.5,482.8 303.7,483.1 304.0,485.3 304.2,485.5 304.5,486.6 304.7,488.5 305.0,494.3 305.2,493.4 305.5,498.3 305.7,501.8 306.0,502.4 306.2,507.9 306.5,511.7 306.7,514.3 307.0,519.3 307.2,519.6 307.5,520.3 307.8,523.5 308.0,524.5 308.3,520.1 308.5,516.6 308.8,516.7 309.0,510.1 309.3,505.1 309.5,498.9 309.8,494.2 310.0,488.5 310.3,485.3 310.5,481.4 310.8,478.2 311.0,475.9 311.3,474.4 311.5,473.7 311.8,470.1 312.0,468.6 312.3,465.7 312.6,463.6 312.8,460.9 313.1,460.9 313.3,457.9 313.6,459.0 313.8,460.2 314.1,458.7 314.3,460.7 314.6,460.5 314.8,460.8 315.1,462.7 315.3,463.3 315.6,465.4 315.8,466.7 316.1,463.8 316.3,463.0 316.6,461.9 316.8,460.5 317.1,458.5 317.3,459.1 317.6,458.6 317.9,457.8 318.1,455.7 318.4,456.4 318.6,454.4 318.9,456.6 319.1,454.3 319.4,454.7 319.6,454.1 319.9,453.6 320.1,452.8 320.4,451.7 320.6,454.8 320.9,453.0 321.1,452.6 321.4,454.0 321.6,451.5 321.9,451.7 322.1,451.6 322.4,453.6 322.7,453.8 322.9,454.5 323.2,454.8 323.4,456.2 323.7,458.0 323.9,455.7 324.2,459.1 324.4,460.6 324.7,462.4 324.9,462.5 325.2,466.3 325.4,465.5 325.7,466.9 325.9,467.3 326.2,468.1 326.4,471.6 326.7,472.4 326.9,475.6 327.2,479.5 327.5,483.4 327.7,487.0 328.0,490.3 328.2,494.0 328.5,493.3 328.7,492.7 329.0,494.3 329.2,495.7 329.5,497.7 329.7,498.8 330.0,500.0 330.2,498.1 330.5,491.4 330.7,486.0 331.0,481.0 331.2,481.8 331.5,484.4 331.7,484.5 332.0,486.1 332.3,479.4 332.5,480.3 332.8,478.5 333.0,476.9 333.3,473.0 333.5,469.2 333.8,469.5 334.0,466.5 334.3,465.8 334.5,467.5 334.8,469.6 335.0,470.0 335.3,467.5 335.5,463.7 335.8,465.3 336.0,460.1 336.3,462.7 336.5,462.9 336.8,467.1 337.0,467.7 337.3,469.1 337.6,469.3 337.8,470.2 338.1,472.3 338.3,474.8 338.6,482.2 338.8,486.7 339.1,488.1 339.3,486.4 339.6,484.7 339.8,484.0 340.1,481.6 340.3,481.7 340.6,481.7 340.8,481.2 341.1,481.9 341.3,481.1 341.6,479.2 341.8,478.0 342.1,477.6 342.4,476.8 342.6,476.1 342.9,476.0 343.1,474.8 343.4,473.6 343.6,473.0 343.9,469.8 344.1,473.3 344.4,472.7 344.6,476.9 344.9,478.1 345.1,480.2 345.4,479.1 345.6,478.1 345.9,480.1 346.1,481.2 346.4,484.7 346.6,488.2 346.9,492.6 347.2,494.8 347.4,495.7 347.7,495.4 347.9,498.1 348.2,499.5 348.4,501.7 348.7,500.8 348.9,500.8 349.2,502.9 349.4,502.6 349.7,503.7 349.9,504.9 350.2,504.7 350.4,508.6 350.7,509.6 350.9,510.4 351.2,506.0 351.4,502.3 351.7,498.5 352.0,491.4 352.2,488.0 352.5,486.9 352.7,482.4 353.0,479.2 353.2,479.3 353.5,477.6 353.7,476.5 354.0,474.7 354.2,473.6 354.5,471.0 354.7,468.6 355.0,466.7 355.2,466.0 355.5,464.6 355.7,462.8 356.0,460.8 356.2,456.3 356.5,458.1 356.7,458.2 357.0,458.3 357.3,455.7 357.5,458.0 357.8,456.1 358.0,454.5 358.3,456.8 358.5,457.8 358.8,458.9 359.0,461.5 359.3,460.3 359.5,459.1 359.8,459.6 360.0,460.0 360.3,459.8 360.5,462.9 360.8,461.3 361.0,465.2 361.3,466.3 361.5,466.5 361.8,469.6 362.1,472.1 362.3,470.3 362.6,468.8 362.8,469.6 363.1,471.2 363.3,468.5 363.6,471.3 363.8,471.5 364.1,471.6 364.3,470.0 364.6,468.8 364.8,468.9 365.1,468.5 365.3,469.4 365.6,474.5 365.8,474.2 366.1,479.1 366.3,482.1 366.6,486.7 366.9,489.4 367.1,492.8 367.4,493.2 367.6,495.7 367.9,496.6 368.1,497.4 368.4,490.5 368.6,488.3 368.9,483.6 369.1,479.7 369.4,476.0 369.6,473.9 369.9,469.0 370.1,467.2 370.4,468.2 370.6,465.0 370.9,466.9 371.1,463.9 371.4,462.9 371.7,461.2 371.9,460.1 372.2,457.5 372.4,455.4 372.7,453.7 372.9,452.8 373.2,451.5 373.4,450.7 373.7,448.8 373.9,447.2 374.2,446.1 374.4,449.4 374.7,450.6 374.9,450.4 375.2,453.4 375.4,455.9 375.7,456.7 375.9,459.7 376.2,460.6 376.5,460.0 376.7,462.8 377.0,464.4 377.2,467.7 377.5,468.8 377.7,471.8 378.0,473.8 378.2,474.6 378.5,474.2 378.7,474.6 379.0,473.9 379.2,474.4 379.5,475.7 379.7,476.9 380.0,478.1 380.2,478.4 380.5,473.1 380.7,474.2 381.0,473.4 381.2,472.7 381.5,469.0 381.8,468.9 382.0,467.9 382.3,465.9 382.5,463.6 382.8,464.4 383.0,462.9 383.3,465.3 383.5,464.3 383.8,467.4 384.0,466.5 384.3,467.8 384.5,470.4 384.8,472.1 385.0,475.6 385.3,477.7 385.5,477.0 385.8,479.2 386.0,478.2 386.3,480.0 386.6,482.5 386.8,479.3 387.1,482.8 387.3,484.7 387.6,483.7 387.8,486.2 388.1,488.5 388.3,492.0 388.6,492.1" fill="none" stroke="#5c5eb2" stroke-width="1.1" stroke-linejoin="round"/>
<line x1="25.0" x2="388.7" y1="483.37" y2="476.53" stroke="#359040" stroke-width="1.1" stroke-dasharray="2.4,0.7"/>
<text x="19.6" y="537.00" text-anchor="end" font-weight="bold" font-size="4.9" fill="#1a1a1a" stroke="#1a1a1a" stroke-width="0.2">−4</text>
<text x="19.6" y="523.31" text-anchor="end" font-weight="bold" font-size="4.9" fill="#1a1a1a" stroke="#1a1a1a" stroke-width="0.2">−3</text>
<text x="19.6" y="509.62" text-anchor="end" font-weight="bold" font-size="4.9" fill="#1a1a1a" stroke="#1a1a1a" stroke-width="0.2">−2</text>
<text x="19.6" y="495.94" text-anchor="end" font-weight="bold" font-size="4.9" fill="#1a1a1a" stroke="#1a1a1a" stroke-width="0.2">−1</text>
<text x="19.6" y="482.25" text-anchor="end" font-weight="bold" font-size="4.9" fill="#1a1a1a" stroke="#1a1a1a" stroke-width="0.2">0</text>
<text x="19.6" y="468.56" text-anchor="end" font-weight="bold" font-size="4.9" fill="#1a1a1a" stroke="#1a1a1a" stroke-width="0.2">1</text>
<text x="19.6" y="454.88" text-anchor="end" font-weight="bold" font-size="4.9" fill="#1a1a1a" stroke="#1a1a1a" stroke-width="0.2">2</text>
<text x="19.6" y="441.19" text-anchor="end" font-weight="bold" font-size="4.9" fill="#1a1a1a" stroke="#1a1a1a" stroke-width="0.2">3</text>
<text x="19.6" y="427.50" text-anchor="end" font-weight="bold" font-size="4.9" fill="#1a1a1a" stroke="#1a1a1a" stroke-width="0.2">4</text>
<text x="79.3" y="544.50" text-anchor="middle" font-weight="bold" font-size="4.9" fill="#111" stroke="#111" stroke-width="0.2">1919</text>
<text x="155.4" y="544.50" text-anchor="middle" font-weight="bold" font-size="4.9" fill="#111" stroke="#111" stroke-width="0.2">1944</text>
<text x="231.5" y="544.50" text-anchor="middle" font-weight="bold" font-size="4.9" fill="#111" stroke="#111" stroke-width="0.2">1969</text>
<text x="306.8" y="544.50" text-anchor="middle" font-weight="bold" font-size="4.9" fill="#111" stroke="#111" stroke-width="0.2">1994</text>
<text x="382.6" y="544.50" text-anchor="middle" font-weight="bold" font-size="4.9" fill="#111" stroke="#111" stroke-width="0.2">2019</text>
<text transform="translate(10.8,479.95) rotate(-90)" text-anchor="middle" font-weight="bold" font-size="4.8" fill="#111" stroke="#111" stroke-width="0.25" textLength="13.2" lengthAdjust="spacingAndGlyphs">SPI24</text>
<text x="234.2" y="436.10" font-style="italic" font-size="6.0" fill="#2a2a2a" stroke="#2a2a2a" stroke-width="0.08" textLength="89.5" lengthAdjust="spacingAndGlyphs">y = 1.166 × 10<tspan dy="-1.8" font-size="3.6">-3</tspan><tspan dy="1.8"> × x + 2.912 × 10</tspan><tspan dy="-1.8" font-size="3.6">-2</tspan></text>
<line x1="309.6" x2="312.4" y1="528.4" y2="528.4" stroke="#3c5a40" stroke-width="0.8"/>
<text x="313.4" y="530.0" font-style="italic" font-size="4.6" fill="#3a3a3a" textLength="12.5" lengthAdjust="spacingAndGlyphs">Trend</text>
<line x1="329.8" x2="332.8" y1="528.4" y2="528.4" stroke="#d8d090" stroke-width="0.8"/>
<text x="335" y="530.0" font-style="italic" font-size="4.6" fill="#3a3a3a" textLength="17" lengthAdjust="spacingAndGlyphs">SPI = -1</text>
<line x1="355.6" x2="358.6" y1="528.4" y2="528.4" stroke="#707070" stroke-width="0.8"/>
<text x="360" y="530.0" font-style="italic" font-size="4.6" fill="#3a3a3a" textLength="17" lengthAdjust="spacingAndGlyphs">SPI = -2</text>
</svg></body></html>
